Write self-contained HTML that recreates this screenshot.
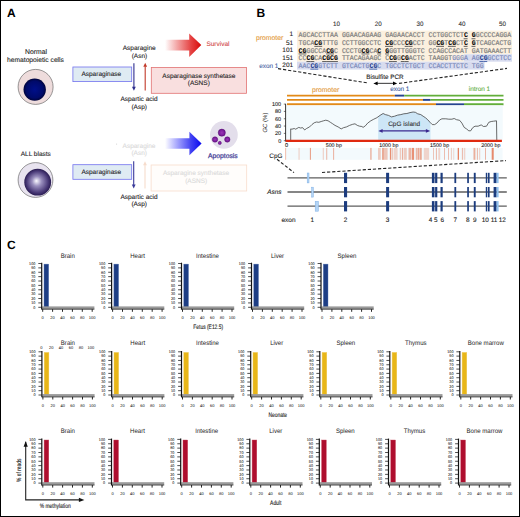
<!DOCTYPE html>
<html><head><meta charset="utf-8"><title>ASNS figure</title>
<style>html,body{margin:0;padding:0;background:#fff;} svg{display:block;} text{text-rendering:geometricPrecision;}</style>
</head><body>
<svg width="520" height="517" viewBox="0 0 520 517">
<defs>
<radialGradient id="nuc1" cx="0.5" cy="0.5" r="0.5"><stop offset="0" stop-color="#000f8a"/><stop offset="0.75" stop-color="#000a6a"/><stop offset="1" stop-color="#00033a"/></radialGradient>
<radialGradient id="nuc2" cx="0.5" cy="0.5" r="0.5" fx="0.45" fy="0.45"><stop offset="0" stop-color="#fbfaff"/><stop offset="0.35" stop-color="#9a8fbe"/><stop offset="0.8" stop-color="#4a3a78"/><stop offset="1" stop-color="#2a1c52"/></radialGradient>
<linearGradient id="gred" x1="165" y1="0" x2="200" y2="0" gradientUnits="userSpaceOnUse"><stop offset="0" stop-color="#e01818" stop-opacity="0"/><stop offset="0.75" stop-color="#e02020" stop-opacity="0.85"/><stop offset="1" stop-color="#d81010"/></linearGradient>
<linearGradient id="gblue" x1="165" y1="0" x2="200" y2="0" gradientUnits="userSpaceOnUse"><stop offset="0" stop-color="#1a1aff" stop-opacity="0"/><stop offset="0.75" stop-color="#2020f0" stop-opacity="0.85"/><stop offset="1" stop-color="#1010f0"/></linearGradient>
<radialGradient id="dot" cx="0.5" cy="0.5" r="0.5"><stop offset="0" stop-color="#9a36b6"/><stop offset="0.7" stop-color="#7e1e9e"/><stop offset="1" stop-color="#64107e"/></radialGradient>
</defs>
<rect x="0.5" y="0.5" width="519" height="516" fill="#fff" stroke="#000" stroke-width="1"/>
<text x="7" y="17" font-size="12" fill="#000" text-anchor="start" font-weight="bold" font-style="normal" font-family='"Liberation Sans", sans-serif'  >A</text>
<text x="256.6" y="17" font-size="12" fill="#000" text-anchor="start" font-weight="bold" font-style="normal" font-family='"Liberation Sans", sans-serif'  >B</text>
<text x="7" y="249.3" font-size="12" fill="#000" text-anchor="start" font-weight="bold" font-style="normal" font-family='"Liberation Sans", sans-serif'  >C</text>
<text x="36" y="54.2" font-size="6.8" fill="#222" text-anchor="middle" font-weight="normal" font-style="normal" font-family='"Liberation Sans", sans-serif' stroke="#222" stroke-width="0.1" >Normal</text>
<text x="35.5" y="62.0" font-size="6.7" fill="#222" text-anchor="middle" font-weight="normal" font-style="normal" font-family='"Liberation Sans", sans-serif' stroke="#222" stroke-width="0.1" >hematopoietic cells</text>
<circle cx="35.6" cy="86.9" r="17.5" fill="#eedcdc" stroke="#555" stroke-width="0.6"/>
<circle cx="34.7" cy="89.6" r="11.2" fill="url(#nuc1)"/>
<rect x="72.9" y="67.0" width="58.8" height="14.6" fill="#dfebf3" stroke="#7272ee" stroke-width="0.8"/>
<text x="101.3" y="76.1" font-size="6.5" fill="#222" text-anchor="middle" font-weight="normal" font-style="normal" font-family='"Liberation Sans", sans-serif' stroke="#222" stroke-width="0.1" >Asparaginase</text>
<text x="139.2" y="50.0" font-size="6.5" fill="#222" text-anchor="middle" font-weight="normal" font-style="normal" font-family='"Liberation Sans", sans-serif' stroke="#222" stroke-width="0.1" >Asparagine</text>
<text x="139.4" y="57.6" font-size="6.5" fill="#222" text-anchor="middle" font-weight="normal" font-style="normal" font-family='"Liberation Sans", sans-serif' stroke="#222" stroke-width="0.1" >(Asn)</text>
<text x="139.0" y="101.2" font-size="6.5" fill="#222" text-anchor="middle" font-weight="normal" font-style="normal" font-family='"Liberation Sans", sans-serif' stroke="#222" stroke-width="0.1" >Aspartic acid</text>
<text x="139.2" y="108.6" font-size="6.5" fill="#222" text-anchor="middle" font-weight="normal" font-style="normal" font-family='"Liberation Sans", sans-serif' stroke="#222" stroke-width="0.1" >(Asp)</text>
<line x1="133.9" y1="63.3" x2="133.9" y2="87.3" stroke="#2e2e8e" stroke-width="1.1"/>
<path d="M132.0 86.8 L135.8 86.8 L133.9 90.8 Z" fill="#2e2e8e"/>
<line x1="145.2" y1="90.6" x2="145.2" y2="66.3" stroke="#c23a2a" stroke-width="1.1"/>
<path d="M143.29999999999998 66.8 L147.1 66.8 L145.2 62.8 Z" fill="#c23a2a"/>
<rect x="151.3" y="67.4" width="95.2" height="25.9" fill="#f9dfdf" stroke="#e27272" stroke-width="0.8"/>
<text x="198.8" y="78.0" font-size="6.5" fill="#222" text-anchor="middle" font-weight="normal" font-style="normal" font-family='"Liberation Sans", sans-serif' stroke="#222" stroke-width="0.1" >Asparaginase synthetase</text>
<text x="198.8" y="85.4" font-size="6.5" fill="#222" text-anchor="middle" font-weight="normal" font-style="normal" font-family='"Liberation Sans", sans-serif' stroke="#222" stroke-width="0.1" >(ASNS)</text>
<path d="M163 39.8 L189.2 39.8 L189.2 33.4 L201.3 45.1 L189.2 56.9 L189.2 50.4 L163 50.4 Z" fill="url(#gred)"/>
<text x="206.4" y="46.4" font-size="6.5" fill="#d24a4a" text-anchor="start" font-weight="normal" font-style="normal" font-family='"Liberation Sans", sans-serif' stroke="#d24a4a" stroke-width="0.1" >Survival</text>
<text x="35.8" y="156.3" font-size="6.5" fill="#222" text-anchor="middle" font-weight="normal" font-style="normal" font-family='"Liberation Sans", sans-serif' stroke="#222" stroke-width="0.1" >ALL blasts</text>
<circle cx="35.5" cy="180" r="17.4" fill="#e8e3ef" stroke="#555" stroke-width="0.6"/>
<circle cx="37.7" cy="182.2" r="13.4" fill="url(#nuc2)"/>
<rect x="72.9" y="164.7" width="58.8" height="14.6" fill="#dfebf3" stroke="#7272ee" stroke-width="0.8"/>
<text x="101.3" y="173.79999999999998" font-size="6.5" fill="#222" text-anchor="middle" font-weight="normal" font-style="normal" font-family='"Liberation Sans", sans-serif' stroke="#222" stroke-width="0.1" >Asparaginase</text>
<text x="139.0" y="147.8" font-size="6.5" fill="#d9d9d9" text-anchor="middle" font-weight="normal" font-style="normal" font-family='"Liberation Sans", sans-serif' stroke="#d9d9d9" stroke-width="0.1" >Asparagine</text>
<line x1="116.6" y1="143.4" x2="116.6" y2="145.0" stroke="#d0d0d0" stroke-width="0.6"/>
<text x="139.2" y="155.4" font-size="6.5" fill="#d9d9d9" text-anchor="middle" font-weight="normal" font-style="normal" font-family='"Liberation Sans", sans-serif' stroke="#d9d9d9" stroke-width="0.1" >(Asn)</text>
<text x="139.0" y="198.6" font-size="6.5" fill="#222" text-anchor="middle" font-weight="normal" font-style="normal" font-family='"Liberation Sans", sans-serif' stroke="#222" stroke-width="0.1" >Aspartic acid</text>
<text x="139.2" y="206.0" font-size="6.5" fill="#222" text-anchor="middle" font-weight="normal" font-style="normal" font-family='"Liberation Sans", sans-serif' stroke="#222" stroke-width="0.1" >(Asp)</text>
<line x1="133.7" y1="161.3" x2="133.7" y2="184.9" stroke="#3a3a9a" stroke-width="1.1"/>
<path d="M131.79999999999998 184.4 L135.6 184.4 L133.7 188.4 Z" fill="#3a3a9a"/>
<line x1="145.0" y1="188.4" x2="145.0" y2="164.8" stroke="#f6dccc" stroke-width="1.1"/>
<path d="M143.1 165.3 L146.9 165.3 L145.0 161.3 Z" fill="#f6dccc"/>
<rect x="151.1" y="165.0" width="95.6" height="26.0" fill="#fffdfb" stroke="#f8dccc" stroke-width="0.8"/>
<text x="196.0" y="175.4" font-size="6.5" fill="#dadada" text-anchor="middle" font-weight="normal" font-style="normal" font-family='"Liberation Sans", sans-serif' stroke="#dadada" stroke-width="0.1" >Asparagine synthetase</text>
<text x="196.2" y="182.8" font-size="6.5" fill="#dadada" text-anchor="middle" font-weight="normal" font-style="normal" font-family='"Liberation Sans", sans-serif' stroke="#dadada" stroke-width="0.1" >(ASNS)</text>
<path d="M163 138.2 L189.4 138.2 L189.4 131.7 L201.6 143.5 L189.4 155.2 L189.4 148.8 L163 148.8 Z" fill="url(#gblue)"/>
<circle cx="223.9" cy="134.8" r="13.9" fill="#e3deeb"/>
<circle cx="221.8" cy="132.7" r="3.6" fill="url(#dot)" stroke="#5a0c7a" stroke-width="0.45"/>
<circle cx="215.0" cy="139.5" r="2.7" fill="url(#dot)" stroke="#5a0c7a" stroke-width="0.45"/>
<circle cx="227.3" cy="139.5" r="2.7" fill="url(#dot)" stroke="#5a0c7a" stroke-width="0.45"/>
<circle cx="219.8" cy="142.9" r="1.6" fill="url(#dot)" stroke="#5a0c7a" stroke-width="0.45"/>
<text x="222.9" y="157.9" font-size="6.75" fill="#4e4a9c" text-anchor="middle" font-weight="normal" font-style="normal" font-family='"Liberation Sans", sans-serif' stroke="#4e4a9c" stroke-width="0.28" >Apoptosis</text>
<!-- panel B -->
<text x="336.5" y="25.6" font-size="6.3" fill="#333" text-anchor="middle" font-weight="normal" font-style="normal" font-family='"Liberation Sans", sans-serif' stroke="#333" stroke-width="0.1" >10</text>
<text x="378.2" y="25.6" font-size="6.3" fill="#333" text-anchor="middle" font-weight="normal" font-style="normal" font-family='"Liberation Sans", sans-serif' stroke="#333" stroke-width="0.1" >20</text>
<text x="420.0" y="25.6" font-size="6.3" fill="#333" text-anchor="middle" font-weight="normal" font-style="normal" font-family='"Liberation Sans", sans-serif' stroke="#333" stroke-width="0.1" >30</text>
<text x="462.0" y="25.6" font-size="6.3" fill="#333" text-anchor="middle" font-weight="normal" font-style="normal" font-family='"Liberation Sans", sans-serif' stroke="#333" stroke-width="0.1" >40</text>
<text x="502.5" y="25.6" font-size="6.3" fill="#333" text-anchor="middle" font-weight="normal" font-style="normal" font-family='"Liberation Sans", sans-serif' stroke="#333" stroke-width="0.1" >50</text>
<rect x="297.0" y="30.6" width="215" height="23.7" fill="#fbf0df"/>
<rect x="297.0" y="54.2" width="166.9" height="7.5" fill="#fbf0df"/>
<rect x="463.9" y="54.2" width="48.1" height="7.5" fill="#d8dcef"/>
<rect x="297.0" y="61.7" width="187.6" height="7.9" fill="#d8dcef"/>
<text x="256.0" y="39.8" font-size="6.8" fill="#e49a3a" text-anchor="start" font-weight="normal" font-style="normal" font-family='"Liberation Sans", sans-serif' stroke="#e49a3a" stroke-width="0.1" >promoter</text>
<text x="259.2" y="68.2" font-size="6.4" fill="#4a64a4" text-anchor="start" font-weight="normal" font-style="normal" font-family='"Liberation Sans", sans-serif' stroke="#4a64a4" stroke-width="0.1" >exon 1</text>
<text x="293.2" y="36.4" font-size="6.5" fill="#222" text-anchor="end" font-weight="normal" font-style="normal" font-family='"Liberation Sans", sans-serif' stroke="#222" stroke-width="0.1" >1</text>
<text transform="translate(298.6,37.3) scale(1,1.1)" x="0" y="0" font-size="6.55" font-family='"Liberation Mono", monospace' stroke-width="0.18" xml:space="preserve"><tspan fill="#7e7e7e" stroke="#7e7e7e">A</tspan><tspan fill="#7e7e7e" stroke="#7e7e7e">G</tspan><tspan fill="#7e7e7e" stroke="#7e7e7e">C</tspan><tspan fill="#7e7e7e" stroke="#7e7e7e">A</tspan><tspan fill="#7e7e7e" stroke="#7e7e7e">C</tspan><tspan fill="#7e7e7e" stroke="#7e7e7e">C</tspan><tspan fill="#7e7e7e" stroke="#7e7e7e">T</tspan><tspan fill="#7e7e7e" stroke="#7e7e7e">T</tspan><tspan fill="#7e7e7e" stroke="#7e7e7e">A</tspan><tspan fill="#7e7e7e" stroke="#7e7e7e">A</tspan> <tspan fill="#7e7e7e" stroke="#7e7e7e">G</tspan><tspan fill="#7e7e7e" stroke="#7e7e7e">G</tspan><tspan fill="#7e7e7e" stroke="#7e7e7e">A</tspan><tspan fill="#7e7e7e" stroke="#7e7e7e">A</tspan><tspan fill="#7e7e7e" stroke="#7e7e7e">C</tspan><tspan fill="#7e7e7e" stroke="#7e7e7e">A</tspan><tspan fill="#7e7e7e" stroke="#7e7e7e">G</tspan><tspan fill="#7e7e7e" stroke="#7e7e7e">A</tspan><tspan fill="#7e7e7e" stroke="#7e7e7e">A</tspan><tspan fill="#7e7e7e" stroke="#7e7e7e">G</tspan> <tspan fill="#7e7e7e" stroke="#7e7e7e">G</tspan><tspan fill="#7e7e7e" stroke="#7e7e7e">A</tspan><tspan fill="#7e7e7e" stroke="#7e7e7e">G</tspan><tspan fill="#7e7e7e" stroke="#7e7e7e">A</tspan><tspan fill="#7e7e7e" stroke="#7e7e7e">A</tspan><tspan fill="#7e7e7e" stroke="#7e7e7e">C</tspan><tspan fill="#7e7e7e" stroke="#7e7e7e">A</tspan><tspan fill="#7e7e7e" stroke="#7e7e7e">C</tspan><tspan fill="#7e7e7e" stroke="#7e7e7e">C</tspan><tspan fill="#7e7e7e" stroke="#7e7e7e">T</tspan> <tspan fill="#7e7e7e" stroke="#7e7e7e">C</tspan><tspan fill="#7e7e7e" stroke="#7e7e7e">C</tspan><tspan fill="#7e7e7e" stroke="#7e7e7e">T</tspan><tspan fill="#7e7e7e" stroke="#7e7e7e">G</tspan><tspan fill="#7e7e7e" stroke="#7e7e7e">G</tspan><tspan fill="#7e7e7e" stroke="#7e7e7e">C</tspan><tspan fill="#7e7e7e" stroke="#7e7e7e">T</tspan><tspan fill="#7e7e7e" stroke="#7e7e7e">C</tspan><tspan fill="#7e7e7e" stroke="#7e7e7e">T</tspan><tspan font-weight="bold" fill="#000" stroke="#000" stroke-width="0.08">C</tspan> <tspan font-weight="bold" fill="#000" stroke="#000" stroke-width="0.08">G</tspan><tspan fill="#7e7e7e" stroke="#7e7e7e">G</tspan><tspan fill="#7e7e7e" stroke="#7e7e7e">C</tspan><tspan fill="#7e7e7e" stroke="#7e7e7e">C</tspan><tspan fill="#7e7e7e" stroke="#7e7e7e">C</tspan><tspan fill="#7e7e7e" stroke="#7e7e7e">C</tspan><tspan fill="#7e7e7e" stroke="#7e7e7e">A</tspan><tspan fill="#7e7e7e" stroke="#7e7e7e">G</tspan><tspan fill="#7e7e7e" stroke="#7e7e7e">G</tspan><tspan fill="#7e7e7e" stroke="#7e7e7e">A</tspan></text>
<line x1="463.66" y1="38.75" x2="467.59" y2="38.75" stroke="#3a3a3a" stroke-width="0.8"/>
<line x1="471.52" y1="38.75" x2="475.45" y2="38.75" stroke="#3a3a3a" stroke-width="0.8"/>
<text x="293.2" y="44.5" font-size="6.5" fill="#222" text-anchor="end" font-weight="normal" font-style="normal" font-family='"Liberation Sans", sans-serif' stroke="#222" stroke-width="0.1" >51</text>
<text transform="translate(298.6,44.9) scale(1,1.1)" x="0" y="0" font-size="6.55" font-family='"Liberation Mono", monospace' stroke-width="0.18" xml:space="preserve"><tspan fill="#7e7e7e" stroke="#7e7e7e">T</tspan><tspan fill="#7e7e7e" stroke="#7e7e7e">G</tspan><tspan fill="#7e7e7e" stroke="#7e7e7e">C</tspan><tspan fill="#7e7e7e" stroke="#7e7e7e">A</tspan><tspan font-weight="bold" fill="#000" stroke="#000" stroke-width="0.08">C</tspan><tspan font-weight="bold" fill="#000" stroke="#000" stroke-width="0.08">G</tspan><tspan fill="#7e7e7e" stroke="#7e7e7e">T</tspan><tspan fill="#7e7e7e" stroke="#7e7e7e">T</tspan><tspan fill="#7e7e7e" stroke="#7e7e7e">T</tspan><tspan fill="#7e7e7e" stroke="#7e7e7e">G</tspan> <tspan fill="#7e7e7e" stroke="#7e7e7e">C</tspan><tspan fill="#7e7e7e" stroke="#7e7e7e">C</tspan><tspan fill="#7e7e7e" stroke="#7e7e7e">T</tspan><tspan fill="#7e7e7e" stroke="#7e7e7e">T</tspan><tspan fill="#7e7e7e" stroke="#7e7e7e">G</tspan><tspan fill="#7e7e7e" stroke="#7e7e7e">G</tspan><tspan fill="#7e7e7e" stroke="#7e7e7e">C</tspan><tspan fill="#7e7e7e" stroke="#7e7e7e">C</tspan><tspan fill="#7e7e7e" stroke="#7e7e7e">T</tspan><tspan fill="#7e7e7e" stroke="#7e7e7e">C</tspan> <tspan font-weight="bold" fill="#000" stroke="#000" stroke-width="0.08">C</tspan><tspan font-weight="bold" fill="#000" stroke="#000" stroke-width="0.08">G</tspan><tspan fill="#7e7e7e" stroke="#7e7e7e">C</tspan><tspan fill="#7e7e7e" stroke="#7e7e7e">C</tspan><tspan fill="#7e7e7e" stroke="#7e7e7e">C</tspan><tspan font-weight="bold" fill="#000" stroke="#000" stroke-width="0.08">C</tspan><tspan font-weight="bold" fill="#000" stroke="#000" stroke-width="0.08">G</tspan><tspan fill="#7e7e7e" stroke="#7e7e7e">C</tspan><tspan fill="#7e7e7e" stroke="#7e7e7e">C</tspan><tspan fill="#7e7e7e" stroke="#7e7e7e">T</tspan> <tspan fill="#7e7e7e" stroke="#7e7e7e">G</tspan><tspan fill="#7e7e7e" stroke="#7e7e7e">G</tspan><tspan font-weight="bold" fill="#000" stroke="#000" stroke-width="0.08">C</tspan><tspan font-weight="bold" fill="#000" stroke="#000" stroke-width="0.08">G</tspan><tspan fill="#7e7e7e" stroke="#7e7e7e">T</tspan><tspan font-weight="bold" fill="#000" stroke="#000" stroke-width="0.08">C</tspan><tspan font-weight="bold" fill="#000" stroke="#000" stroke-width="0.08">G</tspan><tspan fill="#7e7e7e" stroke="#7e7e7e">C</tspan><tspan fill="#7e7e7e" stroke="#7e7e7e">T</tspan><tspan font-weight="bold" fill="#000" stroke="#000" stroke-width="0.08">C</tspan> <tspan font-weight="bold" fill="#000" stroke="#000" stroke-width="0.08">G</tspan><tspan fill="#7e7e7e" stroke="#7e7e7e">T</tspan><tspan fill="#7e7e7e" stroke="#7e7e7e">C</tspan><tspan fill="#7e7e7e" stroke="#7e7e7e">A</tspan><tspan fill="#7e7e7e" stroke="#7e7e7e">G</tspan><tspan fill="#7e7e7e" stroke="#7e7e7e">C</tspan><tspan fill="#7e7e7e" stroke="#7e7e7e">A</tspan><tspan fill="#7e7e7e" stroke="#7e7e7e">C</tspan><tspan fill="#7e7e7e" stroke="#7e7e7e">T</tspan><tspan fill="#7e7e7e" stroke="#7e7e7e">G</tspan></text>
<line x1="314.32" y1="46.35" x2="318.25" y2="46.35" stroke="#3a3a3a" stroke-width="0.8"/>
<line x1="318.25" y1="46.35" x2="322.18" y2="46.35" stroke="#3a3a3a" stroke-width="0.8"/>
<line x1="385.06" y1="46.35" x2="388.99" y2="46.35" stroke="#3a3a3a" stroke-width="0.8"/>
<line x1="388.99" y1="46.35" x2="392.92" y2="46.35" stroke="#3a3a3a" stroke-width="0.8"/>
<line x1="404.71" y1="46.35" x2="408.64" y2="46.35" stroke="#3a3a3a" stroke-width="0.8"/>
<line x1="408.64" y1="46.35" x2="412.57" y2="46.35" stroke="#3a3a3a" stroke-width="0.8"/>
<line x1="436.15" y1="46.35" x2="440.08" y2="46.35" stroke="#3a3a3a" stroke-width="0.8"/>
<line x1="440.08" y1="46.35" x2="444.01" y2="46.35" stroke="#3a3a3a" stroke-width="0.8"/>
<line x1="447.94" y1="46.35" x2="451.87" y2="46.35" stroke="#3a3a3a" stroke-width="0.8"/>
<line x1="451.87" y1="46.35" x2="455.80" y2="46.35" stroke="#3a3a3a" stroke-width="0.8"/>
<line x1="463.66" y1="46.35" x2="467.59" y2="46.35" stroke="#3a3a3a" stroke-width="0.8"/>
<line x1="471.52" y1="46.35" x2="475.45" y2="46.35" stroke="#3a3a3a" stroke-width="0.8"/>
<text x="293.2" y="52.0" font-size="6.5" fill="#222" text-anchor="end" font-weight="normal" font-style="normal" font-family='"Liberation Sans", sans-serif' stroke="#222" stroke-width="0.1" >101</text>
<text transform="translate(298.6,52.5) scale(1,1.1)" x="0" y="0" font-size="6.55" font-family='"Liberation Mono", monospace' stroke-width="0.18" xml:space="preserve"><tspan font-weight="bold" fill="#000" stroke="#000" stroke-width="0.08">C</tspan><tspan font-weight="bold" fill="#000" stroke="#000" stroke-width="0.08">G</tspan><tspan fill="#7e7e7e" stroke="#7e7e7e">G</tspan><tspan fill="#7e7e7e" stroke="#7e7e7e">G</tspan><tspan fill="#7e7e7e" stroke="#7e7e7e">C</tspan><tspan fill="#7e7e7e" stroke="#7e7e7e">C</tspan><tspan fill="#7e7e7e" stroke="#7e7e7e">A</tspan><tspan font-weight="bold" fill="#000" stroke="#000" stroke-width="0.08">C</tspan><tspan font-weight="bold" fill="#000" stroke="#000" stroke-width="0.08">G</tspan><tspan fill="#7e7e7e" stroke="#7e7e7e">C</tspan> <tspan fill="#7e7e7e" stroke="#7e7e7e">C</tspan><tspan fill="#7e7e7e" stroke="#7e7e7e">C</tspan><tspan fill="#7e7e7e" stroke="#7e7e7e">C</tspan><tspan fill="#7e7e7e" stroke="#7e7e7e">T</tspan><tspan fill="#7e7e7e" stroke="#7e7e7e">G</tspan><tspan font-weight="bold" fill="#000" stroke="#000" stroke-width="0.08">C</tspan><tspan font-weight="bold" fill="#000" stroke="#000" stroke-width="0.08">G</tspan><tspan fill="#7e7e7e" stroke="#7e7e7e">C</tspan><tspan fill="#7e7e7e" stroke="#7e7e7e">A</tspan><tspan font-weight="bold" fill="#000" stroke="#000" stroke-width="0.08">C</tspan> <tspan font-weight="bold" fill="#000" stroke="#000" stroke-width="0.08">G</tspan><tspan fill="#7e7e7e" stroke="#7e7e7e">G</tspan><tspan fill="#7e7e7e" stroke="#7e7e7e">G</tspan><tspan fill="#7e7e7e" stroke="#7e7e7e">T</tspan><tspan fill="#7e7e7e" stroke="#7e7e7e">T</tspan><tspan fill="#7e7e7e" stroke="#7e7e7e">G</tspan><tspan fill="#7e7e7e" stroke="#7e7e7e">G</tspan><tspan fill="#7e7e7e" stroke="#7e7e7e">G</tspan><tspan fill="#7e7e7e" stroke="#7e7e7e">T</tspan><tspan fill="#7e7e7e" stroke="#7e7e7e">C</tspan> <tspan fill="#7e7e7e" stroke="#7e7e7e">C</tspan><tspan fill="#7e7e7e" stroke="#7e7e7e">C</tspan><tspan fill="#7e7e7e" stroke="#7e7e7e">A</tspan><tspan fill="#7e7e7e" stroke="#7e7e7e">G</tspan><tspan fill="#7e7e7e" stroke="#7e7e7e">C</tspan><tspan fill="#7e7e7e" stroke="#7e7e7e">C</tspan><tspan fill="#7e7e7e" stroke="#7e7e7e">A</tspan><tspan fill="#7e7e7e" stroke="#7e7e7e">C</tspan><tspan fill="#7e7e7e" stroke="#7e7e7e">A</tspan><tspan fill="#7e7e7e" stroke="#7e7e7e">T</tspan> <tspan fill="#7e7e7e" stroke="#7e7e7e">G</tspan><tspan fill="#7e7e7e" stroke="#7e7e7e">A</tspan><tspan fill="#7e7e7e" stroke="#7e7e7e">T</tspan><tspan fill="#7e7e7e" stroke="#7e7e7e">G</tspan><tspan fill="#7e7e7e" stroke="#7e7e7e">A</tspan><tspan fill="#7e7e7e" stroke="#7e7e7e">A</tspan><tspan fill="#7e7e7e" stroke="#7e7e7e">A</tspan><tspan fill="#7e7e7e" stroke="#7e7e7e">C</tspan><tspan fill="#7e7e7e" stroke="#7e7e7e">T</tspan><tspan fill="#7e7e7e" stroke="#7e7e7e">T</tspan></text>
<line x1="298.60" y1="53.95" x2="302.53" y2="53.95" stroke="#3a3a3a" stroke-width="0.8"/>
<line x1="302.53" y1="53.95" x2="306.46" y2="53.95" stroke="#3a3a3a" stroke-width="0.8"/>
<line x1="326.11" y1="53.95" x2="330.04" y2="53.95" stroke="#3a3a3a" stroke-width="0.8"/>
<line x1="330.04" y1="53.95" x2="333.97" y2="53.95" stroke="#3a3a3a" stroke-width="0.8"/>
<line x1="361.48" y1="53.95" x2="365.41" y2="53.95" stroke="#3a3a3a" stroke-width="0.8"/>
<line x1="365.41" y1="53.95" x2="369.34" y2="53.95" stroke="#3a3a3a" stroke-width="0.8"/>
<line x1="377.20" y1="53.95" x2="381.13" y2="53.95" stroke="#3a3a3a" stroke-width="0.8"/>
<line x1="385.06" y1="53.95" x2="388.99" y2="53.95" stroke="#3a3a3a" stroke-width="0.8"/>
<text x="293.2" y="59.8" font-size="6.5" fill="#222" text-anchor="end" font-weight="normal" font-style="normal" font-family='"Liberation Sans", sans-serif' stroke="#222" stroke-width="0.1" >151</text>
<text transform="translate(298.6,60.1) scale(1,1.1)" x="0" y="0" font-size="6.55" font-family='"Liberation Mono", monospace' stroke-width="0.18" xml:space="preserve"><tspan fill="#7e7e7e" stroke="#7e7e7e">C</tspan><tspan fill="#7e7e7e" stroke="#7e7e7e">C</tspan><tspan font-weight="bold" fill="#000" stroke="#000" stroke-width="0.08">C</tspan><tspan font-weight="bold" fill="#000" stroke="#000" stroke-width="0.08">G</tspan><tspan fill="#7e7e7e" stroke="#7e7e7e">C</tspan><tspan fill="#7e7e7e" stroke="#7e7e7e">A</tspan><tspan font-weight="bold" fill="#000" stroke="#000" stroke-width="0.08">C</tspan><tspan font-weight="bold" fill="#000" stroke="#000" stroke-width="0.08">G</tspan><tspan font-weight="bold" fill="#000" stroke="#000" stroke-width="0.08">C</tspan><tspan font-weight="bold" fill="#000" stroke="#000" stroke-width="0.08">G</tspan> <tspan fill="#7e7e7e" stroke="#7e7e7e">T</tspan><tspan fill="#7e7e7e" stroke="#7e7e7e">T</tspan><tspan fill="#7e7e7e" stroke="#7e7e7e">A</tspan><tspan fill="#7e7e7e" stroke="#7e7e7e">C</tspan><tspan fill="#7e7e7e" stroke="#7e7e7e">A</tspan><tspan fill="#7e7e7e" stroke="#7e7e7e">G</tspan><tspan fill="#7e7e7e" stroke="#7e7e7e">A</tspan><tspan fill="#7e7e7e" stroke="#7e7e7e">A</tspan><tspan fill="#7e7e7e" stroke="#7e7e7e">G</tspan><tspan fill="#7e7e7e" stroke="#7e7e7e">C</tspan> <tspan fill="#7e7e7e" stroke="#7e7e7e">C</tspan><tspan font-weight="bold" fill="#000" stroke="#000" stroke-width="0.08">C</tspan><tspan font-weight="bold" fill="#000" stroke="#000" stroke-width="0.08">G</tspan><tspan fill="#7e7e7e" stroke="#7e7e7e">G</tspan><tspan font-weight="bold" fill="#000" stroke="#000" stroke-width="0.08">C</tspan><tspan font-weight="bold" fill="#000" stroke="#000" stroke-width="0.08">G</tspan><tspan fill="#7e7e7e" stroke="#7e7e7e">A</tspan><tspan fill="#7e7e7e" stroke="#7e7e7e">C</tspan><tspan fill="#7e7e7e" stroke="#7e7e7e">T</tspan><tspan fill="#7e7e7e" stroke="#7e7e7e">C</tspan> <tspan fill="#7e7e7e" stroke="#7e7e7e">T</tspan><tspan fill="#7e7e7e" stroke="#7e7e7e">A</tspan><tspan fill="#7e7e7e" stroke="#7e7e7e">A</tspan><tspan fill="#7e7e7e" stroke="#7e7e7e">G</tspan><tspan fill="#7e7e7e" stroke="#7e7e7e">G</tspan><tspan fill="#7e7e7e" stroke="#7e7e7e">T</tspan><tspan fill="#7d8bbb" stroke="#7d8bbb">G</tspan><tspan fill="#7d8bbb" stroke="#7d8bbb">G</tspan><tspan fill="#7d8bbb" stroke="#7d8bbb">G</tspan><tspan fill="#7d8bbb" stroke="#7d8bbb">A</tspan> <tspan fill="#7d8bbb" stroke="#7d8bbb">A</tspan><tspan fill="#7d8bbb" stroke="#7d8bbb">G</tspan><tspan font-weight="bold" fill="#1e3e8e" stroke="#1e3e8e" stroke-width="0.08">C</tspan><tspan font-weight="bold" fill="#1e3e8e" stroke="#1e3e8e" stroke-width="0.08">G</tspan><tspan fill="#7d8bbb" stroke="#7d8bbb">G</tspan><tspan fill="#7d8bbb" stroke="#7d8bbb">C</tspan><tspan fill="#7d8bbb" stroke="#7d8bbb">C</tspan><tspan fill="#7d8bbb" stroke="#7d8bbb">T</tspan><tspan fill="#7d8bbb" stroke="#7d8bbb">C</tspan><tspan fill="#7d8bbb" stroke="#7d8bbb">C</tspan></text>
<line x1="306.46" y1="61.550000000000004" x2="310.39" y2="61.550000000000004" stroke="#3a3a3a" stroke-width="0.8"/>
<line x1="310.39" y1="61.550000000000004" x2="314.32" y2="61.550000000000004" stroke="#3a3a3a" stroke-width="0.8"/>
<line x1="322.18" y1="61.550000000000004" x2="326.11" y2="61.550000000000004" stroke="#3a3a3a" stroke-width="0.8"/>
<line x1="326.11" y1="61.550000000000004" x2="330.04" y2="61.550000000000004" stroke="#3a3a3a" stroke-width="0.8"/>
<line x1="330.04" y1="61.550000000000004" x2="333.97" y2="61.550000000000004" stroke="#3a3a3a" stroke-width="0.8"/>
<line x1="333.97" y1="61.550000000000004" x2="337.90" y2="61.550000000000004" stroke="#3a3a3a" stroke-width="0.8"/>
<line x1="388.99" y1="61.550000000000004" x2="392.92" y2="61.550000000000004" stroke="#3a3a3a" stroke-width="0.8"/>
<line x1="392.92" y1="61.550000000000004" x2="396.85" y2="61.550000000000004" stroke="#3a3a3a" stroke-width="0.8"/>
<line x1="400.78" y1="61.550000000000004" x2="404.71" y2="61.550000000000004" stroke="#3a3a3a" stroke-width="0.8"/>
<line x1="404.71" y1="61.550000000000004" x2="408.64" y2="61.550000000000004" stroke="#3a3a3a" stroke-width="0.8"/>
<line x1="479.38" y1="61.550000000000004" x2="483.31" y2="61.550000000000004" stroke="#2a4a9a" stroke-width="0.8"/>
<line x1="483.31" y1="61.550000000000004" x2="487.24" y2="61.550000000000004" stroke="#2a4a9a" stroke-width="0.8"/>
<text x="293.2" y="67.2" font-size="6.5" fill="#222" text-anchor="end" font-weight="normal" font-style="normal" font-family='"Liberation Sans", sans-serif' stroke="#222" stroke-width="0.1" >201</text>
<text transform="translate(298.6,67.7) scale(1,1.1)" x="0" y="0" font-size="6.55" font-family='"Liberation Mono", monospace' stroke-width="0.18" xml:space="preserve"><tspan fill="#7d8bbb" stroke="#7d8bbb">A</tspan><tspan fill="#7d8bbb" stroke="#7d8bbb">A</tspan><tspan fill="#7d8bbb" stroke="#7d8bbb">C</tspan><tspan font-weight="bold" fill="#1e3e8e" stroke="#1e3e8e" stroke-width="0.08">C</tspan><tspan font-weight="bold" fill="#1e3e8e" stroke="#1e3e8e" stroke-width="0.08">G</tspan><tspan fill="#7d8bbb" stroke="#7d8bbb">G</tspan><tspan fill="#7d8bbb" stroke="#7d8bbb">T</tspan><tspan fill="#7d8bbb" stroke="#7d8bbb">C</tspan><tspan fill="#7d8bbb" stroke="#7d8bbb">T</tspan><tspan fill="#7d8bbb" stroke="#7d8bbb">T</tspan> <tspan fill="#7d8bbb" stroke="#7d8bbb">G</tspan><tspan fill="#7d8bbb" stroke="#7d8bbb">T</tspan><tspan fill="#7d8bbb" stroke="#7d8bbb">C</tspan><tspan fill="#7d8bbb" stroke="#7d8bbb">A</tspan><tspan fill="#7d8bbb" stroke="#7d8bbb">C</tspan><tspan fill="#7d8bbb" stroke="#7d8bbb">T</tspan><tspan fill="#7d8bbb" stroke="#7d8bbb">G</tspan><tspan font-weight="bold" fill="#1e3e8e" stroke="#1e3e8e" stroke-width="0.08">C</tspan><tspan font-weight="bold" fill="#1e3e8e" stroke="#1e3e8e" stroke-width="0.08">G</tspan><tspan fill="#7d8bbb" stroke="#7d8bbb">C</tspan> <tspan fill="#7d8bbb" stroke="#7d8bbb">T</tspan><tspan fill="#7d8bbb" stroke="#7d8bbb">G</tspan><tspan fill="#7d8bbb" stroke="#7d8bbb">C</tspan><tspan fill="#7d8bbb" stroke="#7d8bbb">C</tspan><tspan fill="#7d8bbb" stroke="#7d8bbb">T</tspan><tspan fill="#7d8bbb" stroke="#7d8bbb">C</tspan><tspan fill="#7d8bbb" stroke="#7d8bbb">T</tspan><tspan fill="#7d8bbb" stroke="#7d8bbb">G</tspan><tspan fill="#7d8bbb" stroke="#7d8bbb">C</tspan><tspan fill="#7d8bbb" stroke="#7d8bbb">T</tspan> <tspan fill="#7d8bbb" stroke="#7d8bbb">C</tspan><tspan fill="#7d8bbb" stroke="#7d8bbb">C</tspan><tspan fill="#7d8bbb" stroke="#7d8bbb">A</tspan><tspan fill="#7d8bbb" stroke="#7d8bbb">C</tspan><tspan fill="#7d8bbb" stroke="#7d8bbb">C</tspan><tspan fill="#7d8bbb" stroke="#7d8bbb">T</tspan><tspan fill="#7d8bbb" stroke="#7d8bbb">T</tspan><tspan fill="#7d8bbb" stroke="#7d8bbb">C</tspan><tspan fill="#7d8bbb" stroke="#7d8bbb">T</tspan><tspan fill="#7d8bbb" stroke="#7d8bbb">C</tspan> <tspan fill="#7d8bbb" stroke="#7d8bbb">T</tspan><tspan fill="#7d8bbb" stroke="#7d8bbb">G</tspan><tspan fill="#7d8bbb" stroke="#7d8bbb">G</tspan></text>
<line x1="310.39" y1="69.15" x2="314.32" y2="69.15" stroke="#2a4a9a" stroke-width="0.8"/>
<line x1="314.32" y1="69.15" x2="318.25" y2="69.15" stroke="#2a4a9a" stroke-width="0.8"/>
<line x1="369.34" y1="69.15" x2="373.27" y2="69.15" stroke="#2a4a9a" stroke-width="0.8"/>
<line x1="373.27" y1="69.15" x2="377.20" y2="69.15" stroke="#2a4a9a" stroke-width="0.8"/>
<line x1="278" y1="68.6" x2="368" y2="83.0" stroke="#222" stroke-width="1.1" stroke-dasharray="3.2,1.9"/>
<line x1="399" y1="83.4" x2="507" y2="68.4" stroke="#222" stroke-width="1.1" stroke-dasharray="3.2,1.9"/>
<text x="366.3" y="79.1" font-size="6.33" fill="#222" text-anchor="start" font-weight="normal" font-style="normal" font-family='"Liberation Sans", sans-serif' stroke="#222" stroke-width="0.1" >Bisulfite PCR</text>
<line x1="376" y1="83.4" x2="394.5" y2="83.4" stroke="#555" stroke-width="1.2"/>
<path d="M373.4 83.4 L377.6 81.6 L377.6 85.2 Z" fill="#000"/>
<path d="M397.2 83.4 L393.0 81.6 L393.0 85.2 Z" fill="#000"/>
<text x="312.0" y="91.6" font-size="6.8" fill="#e49a3a" text-anchor="start" font-weight="normal" font-style="normal" font-family='"Liberation Sans", sans-serif' stroke="#e49a3a" stroke-width="0.1" >promoter</text>
<text x="390.2" y="91.4" font-size="6.4" fill="#3e5aa0" text-anchor="start" font-weight="normal" font-style="normal" font-family='"Liberation Sans", sans-serif' stroke="#3e5aa0" stroke-width="0.1" >exon 1</text>
<text x="468.8" y="91.4" font-size="6.4" fill="#62ae42" text-anchor="start" font-weight="normal" font-style="normal" font-family='"Liberation Sans", sans-serif' stroke="#62ae42" stroke-width="0.1" >intron 1</text>
<line x1="287" y1="95.6" x2="394.8" y2="95.6" stroke="#e28a18" stroke-width="1.9"/>
<line x1="394.8" y1="95.6" x2="404.2" y2="95.6" stroke="#26448e" stroke-width="1.9"/>
<line x1="404.2" y1="95.6" x2="503.5" y2="95.6" stroke="#62ae3a" stroke-width="1.9"/>
<line x1="287" y1="99.9" x2="423.0" y2="99.9" stroke="#e28a18" stroke-width="1.9"/>
<line x1="423.0" y1="99.9" x2="430.6" y2="99.9" stroke="#26448e" stroke-width="1.9"/>
<line x1="430.6" y1="99.9" x2="503.5" y2="99.9" stroke="#62ae3a" stroke-width="1.9"/>
<line x1="287" y1="104.3" x2="436.0" y2="104.3" stroke="#e28a18" stroke-width="1.9"/>
<line x1="436.0" y1="104.3" x2="464.0" y2="104.3" stroke="#26448e" stroke-width="1.9"/>
<line x1="464.0" y1="104.3" x2="503.5" y2="104.3" stroke="#62ae3a" stroke-width="1.9"/>
<rect x="286" y="105.5" width="216.7" height="35" fill="#f3fafd"/>
<polygon points="378.2,140.3 378.2,116.7 380.0,115.4 383.1,113.5 385.4,114.6 388.5,115.4 391.5,116.9 394.6,116.2 397.7,115.1 400.8,114.6 403.8,113.8 406.9,113.5 410.0,112.6 413.1,112.0 415.4,112.3 417.7,113.8 420.8,114.6 423.1,116.2 425.4,117.7 427.7,119.7 430.0,122.3 430.5,122.8 430.5,140.3" fill="#cde6f6"/>
<polyline points="290.7,140.8 290.7,128.9 291.9,129.2 294.2,128.5 295.7,129.2 298.8,127.4 300.4,128.0 302.7,127.7 304.7,130.0 306.5,128.5 309.6,126.9 311.9,124.6 314.2,122.8 316.5,122.0 318.8,122.3 321.2,121.5 323.5,120.8 325.8,120.2 328.1,120.8 330.4,122.3 332.7,123.8 335.0,125.4 338.1,126.9 341.2,128.9 343.5,127.7 346.5,126.9 349.6,125.4 352.7,124.3 355.0,123.8 357.3,125.4 359.6,126.2 361.9,126.5 363.1,127.4 365.4,125.8 367.7,123.1 370.8,120.8 373.8,119.2 376.9,117.7 380.0,115.4 383.1,113.5 385.4,114.6 388.5,115.4 391.5,116.9 394.6,116.2 397.7,115.1 400.8,114.6 403.8,113.8 406.9,113.5 410.0,112.6 413.1,112.0 415.4,112.3 417.7,113.8 420.8,114.6 423.1,116.2 425.4,117.7 427.7,119.7 430.0,122.3 432.3,124.6 434.6,124.6 436.9,123.1 439.6,120.0 441.9,118.8 445.8,118.8 448.8,119.2 451.9,119.2 454.2,118.5 456.5,119.7 459.6,120.3 461.9,123.1 464.2,127.4 466.5,128.9 468.8,130.8 470.7,130.8 472.7,127.7 475.0,126.2 478.1,126.2 481.2,124.9 483.5,126.5 486.5,126.2 488.8,122.3 491.2,121.5 493.5,121.2 496.5,120.8 496.8,140.8" fill="none" stroke="#3a3a3a" stroke-width="0.75"/>
<text x="404.2" y="126.3" font-size="6.47" fill="#333" text-anchor="middle" font-weight="normal" font-style="normal" font-family='"Liberation Sans", sans-serif' stroke="#333" stroke-width="0.1" >CpG island</text>
<line x1="381" y1="130.9" x2="427.5" y2="130.9" stroke="#3a2a90" stroke-width="1.1"/>
<path d="M378.3 130.9 L382.6 129.0 L382.6 132.8 Z" fill="#3a2a90"/>
<path d="M430.2 130.9 L425.9 129.0 L425.9 132.8 Z" fill="#3a2a90"/>
<line x1="285.6" y1="103.8" x2="285.6" y2="141.5" stroke="#222" stroke-width="0.9"/>
<text x="281.2" y="106.1" font-size="5.5" fill="#222" text-anchor="end" font-weight="normal" font-style="normal" font-family='"Liberation Sans", sans-serif' stroke="#222" stroke-width="0.1" >100</text>
<line x1="283.8" y1="104.10" x2="285.6" y2="104.10" stroke="#222" stroke-width="0.6"/>
<text x="281.2" y="113.41999999999999" font-size="5.5" fill="#222" text-anchor="end" font-weight="normal" font-style="normal" font-family='"Liberation Sans", sans-serif' stroke="#222" stroke-width="0.1" >80</text>
<line x1="283.8" y1="111.42" x2="285.6" y2="111.42" stroke="#222" stroke-width="0.6"/>
<text x="281.2" y="120.74" font-size="5.5" fill="#222" text-anchor="end" font-weight="normal" font-style="normal" font-family='"Liberation Sans", sans-serif' stroke="#222" stroke-width="0.1" >60</text>
<line x1="283.8" y1="118.74" x2="285.6" y2="118.74" stroke="#222" stroke-width="0.6"/>
<text x="281.2" y="128.06" font-size="5.5" fill="#222" text-anchor="end" font-weight="normal" font-style="normal" font-family='"Liberation Sans", sans-serif' stroke="#222" stroke-width="0.1" >40</text>
<line x1="283.8" y1="126.06" x2="285.6" y2="126.06" stroke="#222" stroke-width="0.6"/>
<text x="281.2" y="135.38" font-size="5.5" fill="#222" text-anchor="end" font-weight="normal" font-style="normal" font-family='"Liberation Sans", sans-serif' stroke="#222" stroke-width="0.1" >20</text>
<line x1="283.8" y1="133.38" x2="285.6" y2="133.38" stroke="#222" stroke-width="0.6"/>
<text x="281.2" y="142.7" font-size="5.5" fill="#222" text-anchor="end" font-weight="normal" font-style="normal" font-family='"Liberation Sans", sans-serif' stroke="#222" stroke-width="0.1" >0</text>
<line x1="283.8" y1="140.70" x2="285.6" y2="140.70" stroke="#222" stroke-width="0.6"/>
<text transform="translate(266.7,122.6) rotate(-90)" font-size="6.0" fill="#222" text-anchor="middle" font-family='"Liberation Sans", sans-serif'><tspan font-style="italic">GC</tspan> (%)</text>
<line x1="285.6" y1="140.8" x2="501.9" y2="140.8" stroke="#e02a10" stroke-width="2.2"/>
<text x="285.0" y="146.6" font-size="5.6" fill="#222" text-anchor="start" font-weight="normal" font-style="normal" font-family='"Liberation Sans", sans-serif' stroke="#222" stroke-width="0.1" >0</text>
<text x="325.7" y="146.6" font-size="5.3" fill="#222" text-anchor="start" font-weight="normal" font-style="normal" font-family='"Liberation Sans", sans-serif' stroke="#222" stroke-width="0.1" >500 bp</text>
<text x="379.2" y="146.6" font-size="5.3" fill="#222" text-anchor="start" font-weight="normal" font-style="normal" font-family='"Liberation Sans", sans-serif' stroke="#222" stroke-width="0.1" >1000 bp</text>
<text x="430.0" y="146.6" font-size="5.3" fill="#222" text-anchor="start" font-weight="normal" font-style="normal" font-family='"Liberation Sans", sans-serif' stroke="#222" stroke-width="0.1" >1500 bp</text>
<text x="481.2" y="146.6" font-size="5.3" fill="#222" text-anchor="start" font-weight="normal" font-style="normal" font-family='"Liberation Sans", sans-serif' stroke="#222" stroke-width="0.1" >2000 bp</text>
<rect x="285.6" y="147.9" width="217" height="11.9" fill="#f3fafd"/>
<text x="269.3" y="157.6" font-size="6.4" fill="#222" text-anchor="start" font-weight="normal" font-style="normal" font-family='"Liberation Sans", sans-serif' stroke="#222" stroke-width="0.1" >CpG</text>
<rect x="285.2" y="147.9" width="0.9" height="11.9" fill="#e2643c" fill-opacity="0.45"/>
<rect x="298.6" y="147.9" width="0.9" height="11.9" fill="#e2643c" fill-opacity="0.35"/>
<rect x="309.9" y="147.9" width="0.9" height="11.9" fill="#e2643c" fill-opacity="0.7"/>
<rect x="322.8" y="147.9" width="0.9" height="11.9" fill="#e2643c" fill-opacity="0.35"/>
<rect x="326.3" y="147.9" width="0.9" height="11.9" fill="#e2643c" fill-opacity="0.5"/>
<rect x="333.2" y="147.9" width="0.9" height="11.9" fill="#e2643c" fill-opacity="0.55"/>
<rect x="370.5" y="147.9" width="0.9" height="11.9" fill="#e2643c" fill-opacity="0.75"/>
<rect x="378.0" y="147.9" width="2.8" height="11.9" fill="#e2643c" fill-opacity="0.3"/>
<rect x="382.3" y="147.9" width="1.4" height="11.9" fill="#e2643c" fill-opacity="0.75"/>
<rect x="384.0" y="147.9" width="3.6" height="11.9" fill="#e2643c" fill-opacity="0.35"/>
<rect x="389.9" y="147.9" width="1.0" height="11.9" fill="#e2643c" fill-opacity="0.8"/>
<rect x="391.6" y="147.9" width="1.0" height="11.9" fill="#e2643c" fill-opacity="0.5"/>
<rect x="393.6" y="147.9" width="4.0" height="11.9" fill="#e2643c" fill-opacity="0.25"/>
<rect x="399.8" y="147.9" width="0.9" height="11.9" fill="#e2643c" fill-opacity="0.45"/>
<rect x="401.9" y="147.9" width="1.0" height="11.9" fill="#e2643c" fill-opacity="0.55"/>
<rect x="403.6" y="147.9" width="3.2" height="11.9" fill="#e2643c" fill-opacity="0.3"/>
<rect x="408.5" y="147.9" width="2.7" height="11.9" fill="#e2643c" fill-opacity="0.45"/>
<rect x="411.8" y="147.9" width="2.3" height="11.9" fill="#e2643c" fill-opacity="0.7"/>
<rect x="415.8" y="147.9" width="1.0" height="11.9" fill="#e2643c" fill-opacity="0.55"/>
<rect x="417.6" y="147.9" width="1.1" height="11.9" fill="#e2643c" fill-opacity="0.8"/>
<rect x="419.0" y="147.9" width="2.7" height="11.9" fill="#e2643c" fill-opacity="0.3"/>
<rect x="420.0" y="147.9" width="1.7" height="11.9" fill="#e2643c" fill-opacity="0.35"/>
<rect x="423.8" y="147.9" width="5.3" height="11.9" fill="#e2643c" fill-opacity="0.25"/>
<rect x="433.1" y="147.9" width="0.9" height="11.9" fill="#e2643c" fill-opacity="0.4"/>
<rect x="435.9" y="147.9" width="0.9" height="11.9" fill="#e2643c" fill-opacity="0.5"/>
<rect x="438.3" y="147.9" width="1.9" height="11.9" fill="#e2643c" fill-opacity="0.25"/>
<rect x="444.1" y="147.9" width="0.9" height="11.9" fill="#e2643c" fill-opacity="0.45"/>
<rect x="448.0" y="147.9" width="0.9" height="11.9" fill="#e2643c" fill-opacity="0.45"/>
<rect x="450.9" y="147.9" width="0.9" height="11.9" fill="#e2643c" fill-opacity="0.35"/>
<rect x="453.3" y="147.9" width="0.9" height="11.9" fill="#e2643c" fill-opacity="0.25"/>
<rect x="457.7" y="147.9" width="1.3" height="11.9" fill="#e2643c" fill-opacity="0.8"/>
<rect x="461.9" y="147.9" width="0.9" height="11.9" fill="#e2643c" fill-opacity="0.5"/>
<rect x="463.8" y="147.9" width="1.5" height="11.9" fill="#e2643c" fill-opacity="0.25"/>
<rect x="473.5" y="147.9" width="1.9" height="11.9" fill="#e2643c" fill-opacity="0.5"/>
<rect x="476.9" y="147.9" width="0.9" height="11.9" fill="#e2643c" fill-opacity="0.5"/>
<rect x="479.2" y="147.9" width="1.0" height="11.9" fill="#e2643c" fill-opacity="0.3"/>
<rect x="485.1" y="147.9" width="0.9" height="11.9" fill="#e2643c" fill-opacity="0.5"/>
<rect x="491.7" y="147.9" width="2.0" height="11.9" fill="#e2643c" fill-opacity="0.75"/>
<line x1="277" y1="159.3" x2="294" y2="172.6" stroke="#222" stroke-width="1.1" stroke-dasharray="3.2,1.9"/>
<line x1="322" y1="172.5" x2="506" y2="160.6" stroke="#222" stroke-width="1.1" stroke-dasharray="3.2,1.9"/>
<line x1="287.5" y1="177.8" x2="506.8" y2="177.8" stroke="#5e5e5e" stroke-width="1.3"/>
<rect x="307.2" y="173.0" width="1.8" height="9.9" fill="#b4d4f4" stroke="#7eb0e6" stroke-width="0.5"/>
<rect x="344.0" y="172.8" width="3.1" height="10.3" fill="#1c3c7e"/>
<rect x="386.1" y="172.8" width="3.0" height="10.3" fill="#1c3c7e"/>
<rect x="431.9" y="172.8" width="2.6" height="10.3" fill="#1c3c7e"/>
<rect x="435.1" y="172.8" width="2.2" height="10.3" fill="#1c3c7e"/>
<rect x="440.5" y="172.8" width="2.2" height="10.3" fill="#1c3c7e"/>
<rect x="454.4" y="172.8" width="1.8" height="10.3" fill="#1c3c7e"/>
<rect x="467.2" y="172.8" width="1.7" height="10.3" fill="#1c3c7e"/>
<rect x="473.8" y="172.8" width="1.9" height="10.3" fill="#1c3c7e"/>
<rect x="485.8" y="172.8" width="1.4" height="10.3" fill="#1c3c7e"/>
<rect x="487.9" y="172.8" width="1.7" height="10.3" fill="#1c3c7e"/>
<rect x="493.6" y="172.8" width="3.0" height="10.3" fill="#1c3c7e"/>
<rect x="496.6" y="172.8" width="2.0" height="10.3" fill="#8fc0ee"/>
<line x1="287.5" y1="192.0" x2="506.8" y2="192.0" stroke="#5e5e5e" stroke-width="1.3"/>
<rect x="311.7" y="187.2" width="1.6" height="9.9" fill="#b4d4f4" stroke="#7eb0e6" stroke-width="0.5"/>
<rect x="344.0" y="187.0" width="3.1" height="10.3" fill="#1c3c7e"/>
<rect x="386.1" y="187.0" width="3.0" height="10.3" fill="#1c3c7e"/>
<rect x="431.9" y="187.0" width="2.6" height="10.3" fill="#1c3c7e"/>
<rect x="435.1" y="187.0" width="2.2" height="10.3" fill="#1c3c7e"/>
<rect x="440.5" y="187.0" width="2.2" height="10.3" fill="#1c3c7e"/>
<rect x="454.4" y="187.0" width="1.8" height="10.3" fill="#1c3c7e"/>
<rect x="467.2" y="187.0" width="1.7" height="10.3" fill="#1c3c7e"/>
<rect x="473.8" y="187.0" width="1.9" height="10.3" fill="#1c3c7e"/>
<rect x="485.8" y="187.0" width="1.4" height="10.3" fill="#1c3c7e"/>
<rect x="487.9" y="187.0" width="1.7" height="10.3" fill="#1c3c7e"/>
<rect x="493.6" y="187.0" width="3.0" height="10.3" fill="#1c3c7e"/>
<rect x="496.6" y="187.0" width="2.0" height="10.3" fill="#8fc0ee"/>
<line x1="287.5" y1="206.1" x2="506.8" y2="206.1" stroke="#5e5e5e" stroke-width="1.3"/>
<rect x="315.2" y="201.29999999999998" width="3.2" height="9.9" fill="#b4d4f4" stroke="#7eb0e6" stroke-width="0.5"/>
<rect x="344.0" y="201.1" width="3.1" height="10.3" fill="#1c3c7e"/>
<rect x="386.1" y="201.1" width="3.0" height="10.3" fill="#1c3c7e"/>
<rect x="431.9" y="201.1" width="2.6" height="10.3" fill="#1c3c7e"/>
<rect x="435.1" y="201.1" width="2.2" height="10.3" fill="#1c3c7e"/>
<rect x="440.5" y="201.1" width="2.2" height="10.3" fill="#1c3c7e"/>
<rect x="454.4" y="201.1" width="1.8" height="10.3" fill="#1c3c7e"/>
<rect x="467.2" y="201.1" width="1.7" height="10.3" fill="#1c3c7e"/>
<rect x="473.8" y="201.1" width="1.9" height="10.3" fill="#1c3c7e"/>
<rect x="485.8" y="201.1" width="1.4" height="10.3" fill="#1c3c7e"/>
<rect x="487.9" y="201.1" width="1.7" height="10.3" fill="#1c3c7e"/>
<rect x="493.6" y="201.1" width="3.0" height="10.3" fill="#1c3c7e"/>
<rect x="496.6" y="201.1" width="2.0" height="10.3" fill="#8fc0ee"/>
<text x="267.3" y="194.3" font-size="6.4" fill="#222" text-anchor="start" font-weight="normal" font-style="italic" font-family='"Liberation Sans", sans-serif' stroke="#222" stroke-width="0.1" >Asns</text>
<text x="281.5" y="221.7" font-size="6.5" fill="#222" text-anchor="start" font-weight="normal" font-style="normal" font-family='"Liberation Sans", sans-serif' stroke="#222" stroke-width="0.1" >exon</text>
<text x="312.3" y="221.7" font-size="6.4" fill="#222" text-anchor="middle" font-weight="normal" font-style="normal" font-family='"Liberation Sans", sans-serif' stroke="#222" stroke-width="0.1" >1</text>
<text x="345.5" y="221.7" font-size="6.4" fill="#222" text-anchor="middle" font-weight="normal" font-style="normal" font-family='"Liberation Sans", sans-serif' stroke="#222" stroke-width="0.1" >2</text>
<text x="387.6" y="221.7" font-size="6.4" fill="#222" text-anchor="middle" font-weight="normal" font-style="normal" font-family='"Liberation Sans", sans-serif' stroke="#222" stroke-width="0.1" >3</text>
<text x="430.6" y="221.7" font-size="6.4" fill="#222" text-anchor="middle" font-weight="normal" font-style="normal" font-family='"Liberation Sans", sans-serif' stroke="#222" stroke-width="0.1" >4</text>
<text x="435.8" y="221.7" font-size="6.4" fill="#222" text-anchor="middle" font-weight="normal" font-style="normal" font-family='"Liberation Sans", sans-serif' stroke="#222" stroke-width="0.1" >5</text>
<text x="442.2" y="221.7" font-size="6.4" fill="#222" text-anchor="middle" font-weight="normal" font-style="normal" font-family='"Liberation Sans", sans-serif' stroke="#222" stroke-width="0.1" >6</text>
<text x="455.3" y="221.7" font-size="6.4" fill="#222" text-anchor="middle" font-weight="normal" font-style="normal" font-family='"Liberation Sans", sans-serif' stroke="#222" stroke-width="0.1" >7</text>
<text x="467.8" y="221.7" font-size="6.4" fill="#222" text-anchor="middle" font-weight="normal" font-style="normal" font-family='"Liberation Sans", sans-serif' stroke="#222" stroke-width="0.1" >8</text>
<text x="474.8" y="221.7" font-size="6.4" fill="#222" text-anchor="middle" font-weight="normal" font-style="normal" font-family='"Liberation Sans", sans-serif' stroke="#222" stroke-width="0.1" >9</text>
<text x="485.3" y="221.7" font-size="6.4" fill="#222" text-anchor="middle" font-weight="normal" font-style="normal" font-family='"Liberation Sans", sans-serif' stroke="#222" stroke-width="0.1" >10</text>
<text x="494.0" y="221.7" font-size="6.4" fill="#222" text-anchor="middle" font-weight="normal" font-style="normal" font-family='"Liberation Sans", sans-serif' stroke="#222" stroke-width="0.1" >11</text>
<text x="502.2" y="221.7" font-size="6.4" fill="#222" text-anchor="middle" font-weight="normal" font-style="normal" font-family='"Liberation Sans", sans-serif' stroke="#222" stroke-width="0.1" >12</text>
<!-- panel C -->
<text transform="translate(67.70,257.80) scale(0.94,1)" font-size="6.45" fill="#1a1a1a" text-anchor="middle" font-family='"Liberation Sans", sans-serif'>Brain</text>
<text x="35.40" y="264.80" font-size="3.8" fill="#222" stroke="#222" stroke-width="0.04" text-anchor="end" font-family='"Liberation Sans", sans-serif'>100</text>
<line x1="38.30" y1="263.50" x2="41.70" y2="263.50" stroke="#222" stroke-width="0.8"/>
<text x="35.40" y="269.18" font-size="3.8" fill="#222" stroke="#222" stroke-width="0.04" text-anchor="end" font-family='"Liberation Sans", sans-serif'>90</text>
<line x1="38.30" y1="267.88" x2="41.70" y2="267.88" stroke="#222" stroke-width="0.8"/>
<text x="35.40" y="273.56" font-size="3.8" fill="#222" stroke="#222" stroke-width="0.04" text-anchor="end" font-family='"Liberation Sans", sans-serif'>80</text>
<line x1="38.30" y1="272.26" x2="41.70" y2="272.26" stroke="#222" stroke-width="0.8"/>
<text x="35.40" y="277.94" font-size="3.8" fill="#222" stroke="#222" stroke-width="0.04" text-anchor="end" font-family='"Liberation Sans", sans-serif'>70</text>
<line x1="38.30" y1="276.64" x2="41.70" y2="276.64" stroke="#222" stroke-width="0.8"/>
<text x="35.40" y="282.32" font-size="3.8" fill="#222" stroke="#222" stroke-width="0.04" text-anchor="end" font-family='"Liberation Sans", sans-serif'>60</text>
<line x1="38.30" y1="281.02" x2="41.70" y2="281.02" stroke="#222" stroke-width="0.8"/>
<text x="35.40" y="286.70" font-size="3.8" fill="#222" stroke="#222" stroke-width="0.04" text-anchor="end" font-family='"Liberation Sans", sans-serif'>50</text>
<line x1="38.30" y1="285.40" x2="41.70" y2="285.40" stroke="#222" stroke-width="0.8"/>
<text x="35.40" y="291.08" font-size="3.8" fill="#222" stroke="#222" stroke-width="0.04" text-anchor="end" font-family='"Liberation Sans", sans-serif'>40</text>
<line x1="38.30" y1="289.78" x2="41.70" y2="289.78" stroke="#222" stroke-width="0.8"/>
<text x="35.40" y="295.46" font-size="3.8" fill="#222" stroke="#222" stroke-width="0.04" text-anchor="end" font-family='"Liberation Sans", sans-serif'>30</text>
<line x1="38.30" y1="294.16" x2="41.70" y2="294.16" stroke="#222" stroke-width="0.8"/>
<text x="35.40" y="299.84" font-size="3.8" fill="#222" stroke="#222" stroke-width="0.04" text-anchor="end" font-family='"Liberation Sans", sans-serif'>20</text>
<line x1="38.30" y1="298.54" x2="41.70" y2="298.54" stroke="#222" stroke-width="0.8"/>
<text x="35.40" y="304.22" font-size="3.8" fill="#222" stroke="#222" stroke-width="0.04" text-anchor="end" font-family='"Liberation Sans", sans-serif'>10</text>
<line x1="38.30" y1="302.92" x2="41.70" y2="302.92" stroke="#222" stroke-width="0.8"/>
<text x="35.40" y="308.60" font-size="3.8" fill="#222" stroke="#222" stroke-width="0.04" text-anchor="end" font-family='"Liberation Sans", sans-serif'>0</text>
<line x1="38.30" y1="307.30" x2="41.70" y2="307.30" stroke="#222" stroke-width="0.8"/>
<rect x="44.00" y="264.10" width="4.7" height="42.90" fill="#1e3e84" stroke="#5a7ab8" stroke-width="0.4"/>
<rect x="42.20" y="306.40" width="52.2" height="2.6" fill="#9a9a9a"/>
<line x1="41.70" y1="309.20" x2="94.40" y2="309.20" stroke="#333" stroke-width="0.9"/>
<line x1="41.70" y1="262.70" x2="41.70" y2="309.60" stroke="#111" stroke-width="1.2"/>
<line x1="42.70" y1="309.20" x2="42.70" y2="311.80" stroke="#111" stroke-width="0.9"/>
<text x="42.70" y="319.10" font-size="4.0" fill="#222" stroke="#222" stroke-width="0.04" text-anchor="middle" font-family='"Liberation Sans", sans-serif'>0</text>
<line x1="52.60" y1="309.20" x2="52.60" y2="311.80" stroke="#111" stroke-width="0.9"/>
<text x="52.60" y="319.10" font-size="4.0" fill="#222" stroke="#222" stroke-width="0.04" text-anchor="middle" font-family='"Liberation Sans", sans-serif'>20</text>
<line x1="62.50" y1="309.20" x2="62.50" y2="311.80" stroke="#111" stroke-width="0.9"/>
<text x="62.50" y="319.10" font-size="4.0" fill="#222" stroke="#222" stroke-width="0.04" text-anchor="middle" font-family='"Liberation Sans", sans-serif'>40</text>
<line x1="72.40" y1="309.20" x2="72.40" y2="311.80" stroke="#111" stroke-width="0.9"/>
<text x="72.40" y="319.10" font-size="4.0" fill="#222" stroke="#222" stroke-width="0.04" text-anchor="middle" font-family='"Liberation Sans", sans-serif'>60</text>
<line x1="82.30" y1="309.20" x2="82.30" y2="311.80" stroke="#111" stroke-width="0.9"/>
<text x="82.30" y="319.10" font-size="4.0" fill="#222" stroke="#222" stroke-width="0.04" text-anchor="middle" font-family='"Liberation Sans", sans-serif'>80</text>
<line x1="92.20" y1="309.20" x2="92.20" y2="311.80" stroke="#111" stroke-width="0.9"/>
<text x="92.20" y="319.10" font-size="4.0" fill="#222" stroke="#222" stroke-width="0.04" text-anchor="middle" font-family='"Liberation Sans", sans-serif'>100</text>
<text transform="translate(137.60,257.80) scale(0.94,1)" font-size="6.45" fill="#1a1a1a" text-anchor="middle" font-family='"Liberation Sans", sans-serif'>Heart</text>
<text x="105.30" y="264.80" font-size="3.8" fill="#222" stroke="#222" stroke-width="0.04" text-anchor="end" font-family='"Liberation Sans", sans-serif'>100</text>
<line x1="108.20" y1="263.50" x2="111.60" y2="263.50" stroke="#222" stroke-width="0.8"/>
<text x="105.30" y="269.18" font-size="3.8" fill="#222" stroke="#222" stroke-width="0.04" text-anchor="end" font-family='"Liberation Sans", sans-serif'>90</text>
<line x1="108.20" y1="267.88" x2="111.60" y2="267.88" stroke="#222" stroke-width="0.8"/>
<text x="105.30" y="273.56" font-size="3.8" fill="#222" stroke="#222" stroke-width="0.04" text-anchor="end" font-family='"Liberation Sans", sans-serif'>80</text>
<line x1="108.20" y1="272.26" x2="111.60" y2="272.26" stroke="#222" stroke-width="0.8"/>
<text x="105.30" y="277.94" font-size="3.8" fill="#222" stroke="#222" stroke-width="0.04" text-anchor="end" font-family='"Liberation Sans", sans-serif'>70</text>
<line x1="108.20" y1="276.64" x2="111.60" y2="276.64" stroke="#222" stroke-width="0.8"/>
<text x="105.30" y="282.32" font-size="3.8" fill="#222" stroke="#222" stroke-width="0.04" text-anchor="end" font-family='"Liberation Sans", sans-serif'>60</text>
<line x1="108.20" y1="281.02" x2="111.60" y2="281.02" stroke="#222" stroke-width="0.8"/>
<text x="105.30" y="286.70" font-size="3.8" fill="#222" stroke="#222" stroke-width="0.04" text-anchor="end" font-family='"Liberation Sans", sans-serif'>50</text>
<line x1="108.20" y1="285.40" x2="111.60" y2="285.40" stroke="#222" stroke-width="0.8"/>
<text x="105.30" y="291.08" font-size="3.8" fill="#222" stroke="#222" stroke-width="0.04" text-anchor="end" font-family='"Liberation Sans", sans-serif'>40</text>
<line x1="108.20" y1="289.78" x2="111.60" y2="289.78" stroke="#222" stroke-width="0.8"/>
<text x="105.30" y="295.46" font-size="3.8" fill="#222" stroke="#222" stroke-width="0.04" text-anchor="end" font-family='"Liberation Sans", sans-serif'>30</text>
<line x1="108.20" y1="294.16" x2="111.60" y2="294.16" stroke="#222" stroke-width="0.8"/>
<text x="105.30" y="299.84" font-size="3.8" fill="#222" stroke="#222" stroke-width="0.04" text-anchor="end" font-family='"Liberation Sans", sans-serif'>20</text>
<line x1="108.20" y1="298.54" x2="111.60" y2="298.54" stroke="#222" stroke-width="0.8"/>
<text x="105.30" y="304.22" font-size="3.8" fill="#222" stroke="#222" stroke-width="0.04" text-anchor="end" font-family='"Liberation Sans", sans-serif'>10</text>
<line x1="108.20" y1="302.92" x2="111.60" y2="302.92" stroke="#222" stroke-width="0.8"/>
<text x="105.30" y="308.60" font-size="3.8" fill="#222" stroke="#222" stroke-width="0.04" text-anchor="end" font-family='"Liberation Sans", sans-serif'>0</text>
<line x1="108.20" y1="307.30" x2="111.60" y2="307.30" stroke="#222" stroke-width="0.8"/>
<rect x="113.90" y="264.10" width="4.7" height="42.90" fill="#1e3e84" stroke="#5a7ab8" stroke-width="0.4"/>
<rect x="112.10" y="306.40" width="52.2" height="2.6" fill="#9a9a9a"/>
<line x1="111.60" y1="309.20" x2="164.30" y2="309.20" stroke="#333" stroke-width="0.9"/>
<line x1="111.60" y1="262.70" x2="111.60" y2="309.60" stroke="#111" stroke-width="1.2"/>
<line x1="112.60" y1="309.20" x2="112.60" y2="311.80" stroke="#111" stroke-width="0.9"/>
<text x="112.60" y="319.10" font-size="4.0" fill="#222" stroke="#222" stroke-width="0.04" text-anchor="middle" font-family='"Liberation Sans", sans-serif'>0</text>
<line x1="122.50" y1="309.20" x2="122.50" y2="311.80" stroke="#111" stroke-width="0.9"/>
<text x="122.50" y="319.10" font-size="4.0" fill="#222" stroke="#222" stroke-width="0.04" text-anchor="middle" font-family='"Liberation Sans", sans-serif'>20</text>
<line x1="132.40" y1="309.20" x2="132.40" y2="311.80" stroke="#111" stroke-width="0.9"/>
<text x="132.40" y="319.10" font-size="4.0" fill="#222" stroke="#222" stroke-width="0.04" text-anchor="middle" font-family='"Liberation Sans", sans-serif'>40</text>
<line x1="142.30" y1="309.20" x2="142.30" y2="311.80" stroke="#111" stroke-width="0.9"/>
<text x="142.30" y="319.10" font-size="4.0" fill="#222" stroke="#222" stroke-width="0.04" text-anchor="middle" font-family='"Liberation Sans", sans-serif'>60</text>
<line x1="152.20" y1="309.20" x2="152.20" y2="311.80" stroke="#111" stroke-width="0.9"/>
<text x="152.20" y="319.10" font-size="4.0" fill="#222" stroke="#222" stroke-width="0.04" text-anchor="middle" font-family='"Liberation Sans", sans-serif'>80</text>
<line x1="162.10" y1="309.20" x2="162.10" y2="311.80" stroke="#111" stroke-width="0.9"/>
<text x="162.10" y="319.10" font-size="4.0" fill="#222" stroke="#222" stroke-width="0.04" text-anchor="middle" font-family='"Liberation Sans", sans-serif'>100</text>
<text transform="translate(207.50,257.80) scale(0.94,1)" font-size="6.45" fill="#1a1a1a" text-anchor="middle" font-family='"Liberation Sans", sans-serif'>Intestine</text>
<text x="175.20" y="264.80" font-size="3.8" fill="#222" stroke="#222" stroke-width="0.04" text-anchor="end" font-family='"Liberation Sans", sans-serif'>100</text>
<line x1="178.10" y1="263.50" x2="181.50" y2="263.50" stroke="#222" stroke-width="0.8"/>
<text x="175.20" y="269.18" font-size="3.8" fill="#222" stroke="#222" stroke-width="0.04" text-anchor="end" font-family='"Liberation Sans", sans-serif'>90</text>
<line x1="178.10" y1="267.88" x2="181.50" y2="267.88" stroke="#222" stroke-width="0.8"/>
<text x="175.20" y="273.56" font-size="3.8" fill="#222" stroke="#222" stroke-width="0.04" text-anchor="end" font-family='"Liberation Sans", sans-serif'>80</text>
<line x1="178.10" y1="272.26" x2="181.50" y2="272.26" stroke="#222" stroke-width="0.8"/>
<text x="175.20" y="277.94" font-size="3.8" fill="#222" stroke="#222" stroke-width="0.04" text-anchor="end" font-family='"Liberation Sans", sans-serif'>70</text>
<line x1="178.10" y1="276.64" x2="181.50" y2="276.64" stroke="#222" stroke-width="0.8"/>
<text x="175.20" y="282.32" font-size="3.8" fill="#222" stroke="#222" stroke-width="0.04" text-anchor="end" font-family='"Liberation Sans", sans-serif'>60</text>
<line x1="178.10" y1="281.02" x2="181.50" y2="281.02" stroke="#222" stroke-width="0.8"/>
<text x="175.20" y="286.70" font-size="3.8" fill="#222" stroke="#222" stroke-width="0.04" text-anchor="end" font-family='"Liberation Sans", sans-serif'>50</text>
<line x1="178.10" y1="285.40" x2="181.50" y2="285.40" stroke="#222" stroke-width="0.8"/>
<text x="175.20" y="291.08" font-size="3.8" fill="#222" stroke="#222" stroke-width="0.04" text-anchor="end" font-family='"Liberation Sans", sans-serif'>40</text>
<line x1="178.10" y1="289.78" x2="181.50" y2="289.78" stroke="#222" stroke-width="0.8"/>
<text x="175.20" y="295.46" font-size="3.8" fill="#222" stroke="#222" stroke-width="0.04" text-anchor="end" font-family='"Liberation Sans", sans-serif'>30</text>
<line x1="178.10" y1="294.16" x2="181.50" y2="294.16" stroke="#222" stroke-width="0.8"/>
<text x="175.20" y="299.84" font-size="3.8" fill="#222" stroke="#222" stroke-width="0.04" text-anchor="end" font-family='"Liberation Sans", sans-serif'>20</text>
<line x1="178.10" y1="298.54" x2="181.50" y2="298.54" stroke="#222" stroke-width="0.8"/>
<text x="175.20" y="304.22" font-size="3.8" fill="#222" stroke="#222" stroke-width="0.04" text-anchor="end" font-family='"Liberation Sans", sans-serif'>10</text>
<line x1="178.10" y1="302.92" x2="181.50" y2="302.92" stroke="#222" stroke-width="0.8"/>
<text x="175.20" y="308.60" font-size="3.8" fill="#222" stroke="#222" stroke-width="0.04" text-anchor="end" font-family='"Liberation Sans", sans-serif'>0</text>
<line x1="178.10" y1="307.30" x2="181.50" y2="307.30" stroke="#222" stroke-width="0.8"/>
<rect x="183.80" y="264.10" width="4.7" height="42.90" fill="#1e3e84" stroke="#5a7ab8" stroke-width="0.4"/>
<rect x="182.00" y="306.40" width="52.2" height="2.6" fill="#9a9a9a"/>
<line x1="181.50" y1="309.20" x2="234.20" y2="309.20" stroke="#333" stroke-width="0.9"/>
<line x1="181.50" y1="262.70" x2="181.50" y2="309.60" stroke="#111" stroke-width="1.2"/>
<line x1="182.50" y1="309.20" x2="182.50" y2="311.80" stroke="#111" stroke-width="0.9"/>
<text x="182.50" y="319.10" font-size="4.0" fill="#222" stroke="#222" stroke-width="0.04" text-anchor="middle" font-family='"Liberation Sans", sans-serif'>0</text>
<line x1="192.40" y1="309.20" x2="192.40" y2="311.80" stroke="#111" stroke-width="0.9"/>
<text x="192.40" y="319.10" font-size="4.0" fill="#222" stroke="#222" stroke-width="0.04" text-anchor="middle" font-family='"Liberation Sans", sans-serif'>20</text>
<line x1="202.30" y1="309.20" x2="202.30" y2="311.80" stroke="#111" stroke-width="0.9"/>
<text x="202.30" y="319.10" font-size="4.0" fill="#222" stroke="#222" stroke-width="0.04" text-anchor="middle" font-family='"Liberation Sans", sans-serif'>40</text>
<line x1="212.20" y1="309.20" x2="212.20" y2="311.80" stroke="#111" stroke-width="0.9"/>
<text x="212.20" y="319.10" font-size="4.0" fill="#222" stroke="#222" stroke-width="0.04" text-anchor="middle" font-family='"Liberation Sans", sans-serif'>60</text>
<line x1="222.10" y1="309.20" x2="222.10" y2="311.80" stroke="#111" stroke-width="0.9"/>
<text x="222.10" y="319.10" font-size="4.0" fill="#222" stroke="#222" stroke-width="0.04" text-anchor="middle" font-family='"Liberation Sans", sans-serif'>80</text>
<line x1="232.00" y1="309.20" x2="232.00" y2="311.80" stroke="#111" stroke-width="0.9"/>
<text x="232.00" y="319.10" font-size="4.0" fill="#222" stroke="#222" stroke-width="0.04" text-anchor="middle" font-family='"Liberation Sans", sans-serif'>100</text>
<text transform="translate(277.50,257.80) scale(0.94,1)" font-size="6.45" fill="#1a1a1a" text-anchor="middle" font-family='"Liberation Sans", sans-serif'>Liver</text>
<text x="245.20" y="264.80" font-size="3.8" fill="#222" stroke="#222" stroke-width="0.04" text-anchor="end" font-family='"Liberation Sans", sans-serif'>100</text>
<line x1="248.10" y1="263.50" x2="251.50" y2="263.50" stroke="#222" stroke-width="0.8"/>
<text x="245.20" y="269.18" font-size="3.8" fill="#222" stroke="#222" stroke-width="0.04" text-anchor="end" font-family='"Liberation Sans", sans-serif'>90</text>
<line x1="248.10" y1="267.88" x2="251.50" y2="267.88" stroke="#222" stroke-width="0.8"/>
<text x="245.20" y="273.56" font-size="3.8" fill="#222" stroke="#222" stroke-width="0.04" text-anchor="end" font-family='"Liberation Sans", sans-serif'>80</text>
<line x1="248.10" y1="272.26" x2="251.50" y2="272.26" stroke="#222" stroke-width="0.8"/>
<text x="245.20" y="277.94" font-size="3.8" fill="#222" stroke="#222" stroke-width="0.04" text-anchor="end" font-family='"Liberation Sans", sans-serif'>70</text>
<line x1="248.10" y1="276.64" x2="251.50" y2="276.64" stroke="#222" stroke-width="0.8"/>
<text x="245.20" y="282.32" font-size="3.8" fill="#222" stroke="#222" stroke-width="0.04" text-anchor="end" font-family='"Liberation Sans", sans-serif'>60</text>
<line x1="248.10" y1="281.02" x2="251.50" y2="281.02" stroke="#222" stroke-width="0.8"/>
<text x="245.20" y="286.70" font-size="3.8" fill="#222" stroke="#222" stroke-width="0.04" text-anchor="end" font-family='"Liberation Sans", sans-serif'>50</text>
<line x1="248.10" y1="285.40" x2="251.50" y2="285.40" stroke="#222" stroke-width="0.8"/>
<text x="245.20" y="291.08" font-size="3.8" fill="#222" stroke="#222" stroke-width="0.04" text-anchor="end" font-family='"Liberation Sans", sans-serif'>40</text>
<line x1="248.10" y1="289.78" x2="251.50" y2="289.78" stroke="#222" stroke-width="0.8"/>
<text x="245.20" y="295.46" font-size="3.8" fill="#222" stroke="#222" stroke-width="0.04" text-anchor="end" font-family='"Liberation Sans", sans-serif'>30</text>
<line x1="248.10" y1="294.16" x2="251.50" y2="294.16" stroke="#222" stroke-width="0.8"/>
<text x="245.20" y="299.84" font-size="3.8" fill="#222" stroke="#222" stroke-width="0.04" text-anchor="end" font-family='"Liberation Sans", sans-serif'>20</text>
<line x1="248.10" y1="298.54" x2="251.50" y2="298.54" stroke="#222" stroke-width="0.8"/>
<text x="245.20" y="304.22" font-size="3.8" fill="#222" stroke="#222" stroke-width="0.04" text-anchor="end" font-family='"Liberation Sans", sans-serif'>10</text>
<line x1="248.10" y1="302.92" x2="251.50" y2="302.92" stroke="#222" stroke-width="0.8"/>
<text x="245.20" y="308.60" font-size="3.8" fill="#222" stroke="#222" stroke-width="0.04" text-anchor="end" font-family='"Liberation Sans", sans-serif'>0</text>
<line x1="248.10" y1="307.30" x2="251.50" y2="307.30" stroke="#222" stroke-width="0.8"/>
<rect x="253.80" y="264.10" width="4.7" height="42.90" fill="#1e3e84" stroke="#5a7ab8" stroke-width="0.4"/>
<rect x="252.00" y="306.40" width="52.2" height="2.6" fill="#9a9a9a"/>
<line x1="251.50" y1="309.20" x2="304.20" y2="309.20" stroke="#333" stroke-width="0.9"/>
<line x1="251.50" y1="262.70" x2="251.50" y2="309.60" stroke="#111" stroke-width="1.2"/>
<line x1="252.50" y1="309.20" x2="252.50" y2="311.80" stroke="#111" stroke-width="0.9"/>
<text x="252.50" y="319.10" font-size="4.0" fill="#222" stroke="#222" stroke-width="0.04" text-anchor="middle" font-family='"Liberation Sans", sans-serif'>0</text>
<line x1="262.40" y1="309.20" x2="262.40" y2="311.80" stroke="#111" stroke-width="0.9"/>
<text x="262.40" y="319.10" font-size="4.0" fill="#222" stroke="#222" stroke-width="0.04" text-anchor="middle" font-family='"Liberation Sans", sans-serif'>20</text>
<line x1="272.30" y1="309.20" x2="272.30" y2="311.80" stroke="#111" stroke-width="0.9"/>
<text x="272.30" y="319.10" font-size="4.0" fill="#222" stroke="#222" stroke-width="0.04" text-anchor="middle" font-family='"Liberation Sans", sans-serif'>40</text>
<line x1="282.20" y1="309.20" x2="282.20" y2="311.80" stroke="#111" stroke-width="0.9"/>
<text x="282.20" y="319.10" font-size="4.0" fill="#222" stroke="#222" stroke-width="0.04" text-anchor="middle" font-family='"Liberation Sans", sans-serif'>60</text>
<line x1="292.10" y1="309.20" x2="292.10" y2="311.80" stroke="#111" stroke-width="0.9"/>
<text x="292.10" y="319.10" font-size="4.0" fill="#222" stroke="#222" stroke-width="0.04" text-anchor="middle" font-family='"Liberation Sans", sans-serif'>80</text>
<line x1="302.00" y1="309.20" x2="302.00" y2="311.80" stroke="#111" stroke-width="0.9"/>
<text x="302.00" y="319.10" font-size="4.0" fill="#222" stroke="#222" stroke-width="0.04" text-anchor="middle" font-family='"Liberation Sans", sans-serif'>100</text>
<text transform="translate(347.00,257.80) scale(0.94,1)" font-size="6.45" fill="#1a1a1a" text-anchor="middle" font-family='"Liberation Sans", sans-serif'>Spleen</text>
<text x="314.70" y="264.80" font-size="3.8" fill="#222" stroke="#222" stroke-width="0.04" text-anchor="end" font-family='"Liberation Sans", sans-serif'>100</text>
<line x1="317.60" y1="263.50" x2="321.00" y2="263.50" stroke="#222" stroke-width="0.8"/>
<text x="314.70" y="269.18" font-size="3.8" fill="#222" stroke="#222" stroke-width="0.04" text-anchor="end" font-family='"Liberation Sans", sans-serif'>90</text>
<line x1="317.60" y1="267.88" x2="321.00" y2="267.88" stroke="#222" stroke-width="0.8"/>
<text x="314.70" y="273.56" font-size="3.8" fill="#222" stroke="#222" stroke-width="0.04" text-anchor="end" font-family='"Liberation Sans", sans-serif'>80</text>
<line x1="317.60" y1="272.26" x2="321.00" y2="272.26" stroke="#222" stroke-width="0.8"/>
<text x="314.70" y="277.94" font-size="3.8" fill="#222" stroke="#222" stroke-width="0.04" text-anchor="end" font-family='"Liberation Sans", sans-serif'>70</text>
<line x1="317.60" y1="276.64" x2="321.00" y2="276.64" stroke="#222" stroke-width="0.8"/>
<text x="314.70" y="282.32" font-size="3.8" fill="#222" stroke="#222" stroke-width="0.04" text-anchor="end" font-family='"Liberation Sans", sans-serif'>60</text>
<line x1="317.60" y1="281.02" x2="321.00" y2="281.02" stroke="#222" stroke-width="0.8"/>
<text x="314.70" y="286.70" font-size="3.8" fill="#222" stroke="#222" stroke-width="0.04" text-anchor="end" font-family='"Liberation Sans", sans-serif'>50</text>
<line x1="317.60" y1="285.40" x2="321.00" y2="285.40" stroke="#222" stroke-width="0.8"/>
<text x="314.70" y="291.08" font-size="3.8" fill="#222" stroke="#222" stroke-width="0.04" text-anchor="end" font-family='"Liberation Sans", sans-serif'>40</text>
<line x1="317.60" y1="289.78" x2="321.00" y2="289.78" stroke="#222" stroke-width="0.8"/>
<text x="314.70" y="295.46" font-size="3.8" fill="#222" stroke="#222" stroke-width="0.04" text-anchor="end" font-family='"Liberation Sans", sans-serif'>30</text>
<line x1="317.60" y1="294.16" x2="321.00" y2="294.16" stroke="#222" stroke-width="0.8"/>
<text x="314.70" y="299.84" font-size="3.8" fill="#222" stroke="#222" stroke-width="0.04" text-anchor="end" font-family='"Liberation Sans", sans-serif'>20</text>
<line x1="317.60" y1="298.54" x2="321.00" y2="298.54" stroke="#222" stroke-width="0.8"/>
<text x="314.70" y="304.22" font-size="3.8" fill="#222" stroke="#222" stroke-width="0.04" text-anchor="end" font-family='"Liberation Sans", sans-serif'>10</text>
<line x1="317.60" y1="302.92" x2="321.00" y2="302.92" stroke="#222" stroke-width="0.8"/>
<text x="314.70" y="308.60" font-size="3.8" fill="#222" stroke="#222" stroke-width="0.04" text-anchor="end" font-family='"Liberation Sans", sans-serif'>0</text>
<line x1="317.60" y1="307.30" x2="321.00" y2="307.30" stroke="#222" stroke-width="0.8"/>
<rect x="323.30" y="264.10" width="4.7" height="42.90" fill="#1e3e84" stroke="#5a7ab8" stroke-width="0.4"/>
<rect x="321.50" y="306.40" width="52.2" height="2.6" fill="#9a9a9a"/>
<line x1="321.00" y1="309.20" x2="373.70" y2="309.20" stroke="#333" stroke-width="0.9"/>
<line x1="321.00" y1="262.70" x2="321.00" y2="309.60" stroke="#111" stroke-width="1.2"/>
<line x1="322.00" y1="309.20" x2="322.00" y2="311.80" stroke="#111" stroke-width="0.9"/>
<text x="322.00" y="319.10" font-size="4.0" fill="#222" stroke="#222" stroke-width="0.04" text-anchor="middle" font-family='"Liberation Sans", sans-serif'>0</text>
<line x1="331.90" y1="309.20" x2="331.90" y2="311.80" stroke="#111" stroke-width="0.9"/>
<text x="331.90" y="319.10" font-size="4.0" fill="#222" stroke="#222" stroke-width="0.04" text-anchor="middle" font-family='"Liberation Sans", sans-serif'>20</text>
<line x1="341.80" y1="309.20" x2="341.80" y2="311.80" stroke="#111" stroke-width="0.9"/>
<text x="341.80" y="319.10" font-size="4.0" fill="#222" stroke="#222" stroke-width="0.04" text-anchor="middle" font-family='"Liberation Sans", sans-serif'>40</text>
<line x1="351.70" y1="309.20" x2="351.70" y2="311.80" stroke="#111" stroke-width="0.9"/>
<text x="351.70" y="319.10" font-size="4.0" fill="#222" stroke="#222" stroke-width="0.04" text-anchor="middle" font-family='"Liberation Sans", sans-serif'>60</text>
<line x1="361.60" y1="309.20" x2="361.60" y2="311.80" stroke="#111" stroke-width="0.9"/>
<text x="361.60" y="319.10" font-size="4.0" fill="#222" stroke="#222" stroke-width="0.04" text-anchor="middle" font-family='"Liberation Sans", sans-serif'>80</text>
<line x1="371.50" y1="309.20" x2="371.50" y2="311.80" stroke="#111" stroke-width="0.9"/>
<text x="371.50" y="319.10" font-size="4.0" fill="#222" stroke="#222" stroke-width="0.04" text-anchor="middle" font-family='"Liberation Sans", sans-serif'>100</text>
<text transform="translate(67.90,345.30) scale(0.94,1)" font-size="6.45" fill="#1a1a1a" text-anchor="middle" font-family='"Liberation Sans", sans-serif'>Brain</text>
<text x="35.60" y="353.10" font-size="3.8" fill="#222" stroke="#222" stroke-width="0.04" text-anchor="end" font-family='"Liberation Sans", sans-serif'>100</text>
<line x1="38.50" y1="351.80" x2="41.90" y2="351.80" stroke="#222" stroke-width="0.8"/>
<text x="35.60" y="357.42" font-size="3.8" fill="#222" stroke="#222" stroke-width="0.04" text-anchor="end" font-family='"Liberation Sans", sans-serif'>90</text>
<line x1="38.50" y1="356.12" x2="41.90" y2="356.12" stroke="#222" stroke-width="0.8"/>
<text x="35.60" y="361.74" font-size="3.8" fill="#222" stroke="#222" stroke-width="0.04" text-anchor="end" font-family='"Liberation Sans", sans-serif'>80</text>
<line x1="38.50" y1="360.44" x2="41.90" y2="360.44" stroke="#222" stroke-width="0.8"/>
<text x="35.60" y="366.06" font-size="3.8" fill="#222" stroke="#222" stroke-width="0.04" text-anchor="end" font-family='"Liberation Sans", sans-serif'>70</text>
<line x1="38.50" y1="364.76" x2="41.90" y2="364.76" stroke="#222" stroke-width="0.8"/>
<text x="35.60" y="370.38" font-size="3.8" fill="#222" stroke="#222" stroke-width="0.04" text-anchor="end" font-family='"Liberation Sans", sans-serif'>60</text>
<line x1="38.50" y1="369.08" x2="41.90" y2="369.08" stroke="#222" stroke-width="0.8"/>
<text x="35.60" y="374.70" font-size="3.8" fill="#222" stroke="#222" stroke-width="0.04" text-anchor="end" font-family='"Liberation Sans", sans-serif'>50</text>
<line x1="38.50" y1="373.40" x2="41.90" y2="373.40" stroke="#222" stroke-width="0.8"/>
<text x="35.60" y="379.02" font-size="3.8" fill="#222" stroke="#222" stroke-width="0.04" text-anchor="end" font-family='"Liberation Sans", sans-serif'>40</text>
<line x1="38.50" y1="377.72" x2="41.90" y2="377.72" stroke="#222" stroke-width="0.8"/>
<text x="35.60" y="383.34" font-size="3.8" fill="#222" stroke="#222" stroke-width="0.04" text-anchor="end" font-family='"Liberation Sans", sans-serif'>30</text>
<line x1="38.50" y1="382.04" x2="41.90" y2="382.04" stroke="#222" stroke-width="0.8"/>
<text x="35.60" y="387.66" font-size="3.8" fill="#222" stroke="#222" stroke-width="0.04" text-anchor="end" font-family='"Liberation Sans", sans-serif'>20</text>
<line x1="38.50" y1="386.36" x2="41.90" y2="386.36" stroke="#222" stroke-width="0.8"/>
<text x="35.60" y="391.98" font-size="3.8" fill="#222" stroke="#222" stroke-width="0.04" text-anchor="end" font-family='"Liberation Sans", sans-serif'>10</text>
<line x1="38.50" y1="390.68" x2="41.90" y2="390.68" stroke="#222" stroke-width="0.8"/>
<text x="35.60" y="396.30" font-size="3.8" fill="#222" stroke="#222" stroke-width="0.04" text-anchor="end" font-family='"Liberation Sans", sans-serif'>0</text>
<line x1="38.50" y1="395.00" x2="41.90" y2="395.00" stroke="#222" stroke-width="0.8"/>
<rect x="44.20" y="352.40" width="4.7" height="42.30" fill="#e8b618" stroke="#f0cc60" stroke-width="0.4"/>
<rect x="42.40" y="394.10" width="52.2" height="2.6" fill="#9a9a9a"/>
<line x1="41.90" y1="396.90" x2="94.60" y2="396.90" stroke="#333" stroke-width="0.9"/>
<line x1="41.90" y1="351.00" x2="41.90" y2="397.30" stroke="#111" stroke-width="1.2"/>
<line x1="42.90" y1="396.90" x2="42.90" y2="399.50" stroke="#111" stroke-width="0.9"/>
<text x="42.90" y="406.80" font-size="4.0" fill="#222" stroke="#222" stroke-width="0.04" text-anchor="middle" font-family='"Liberation Sans", sans-serif'>0</text>
<text x="41.30" y="349.10" font-size="4.0" fill="#222" stroke="#222" stroke-width="0.04" text-anchor="middle" font-family='"Liberation Sans", sans-serif'>0</text>
<line x1="52.80" y1="396.90" x2="52.80" y2="399.50" stroke="#111" stroke-width="0.9"/>
<text x="52.80" y="406.80" font-size="4.0" fill="#222" stroke="#222" stroke-width="0.04" text-anchor="middle" font-family='"Liberation Sans", sans-serif'>20</text>
<text x="51.20" y="349.10" font-size="4.0" fill="#222" stroke="#222" stroke-width="0.04" text-anchor="middle" font-family='"Liberation Sans", sans-serif'>20</text>
<line x1="62.70" y1="396.90" x2="62.70" y2="399.50" stroke="#111" stroke-width="0.9"/>
<text x="62.70" y="406.80" font-size="4.0" fill="#222" stroke="#222" stroke-width="0.04" text-anchor="middle" font-family='"Liberation Sans", sans-serif'>40</text>
<text x="61.10" y="349.10" font-size="4.0" fill="#222" stroke="#222" stroke-width="0.04" text-anchor="middle" font-family='"Liberation Sans", sans-serif'>40</text>
<line x1="72.60" y1="396.90" x2="72.60" y2="399.50" stroke="#111" stroke-width="0.9"/>
<text x="72.60" y="406.80" font-size="4.0" fill="#222" stroke="#222" stroke-width="0.04" text-anchor="middle" font-family='"Liberation Sans", sans-serif'>60</text>
<text x="71.00" y="349.10" font-size="4.0" fill="#222" stroke="#222" stroke-width="0.04" text-anchor="middle" font-family='"Liberation Sans", sans-serif'>60</text>
<line x1="82.50" y1="396.90" x2="82.50" y2="399.50" stroke="#111" stroke-width="0.9"/>
<text x="82.50" y="406.80" font-size="4.0" fill="#222" stroke="#222" stroke-width="0.04" text-anchor="middle" font-family='"Liberation Sans", sans-serif'>80</text>
<text x="80.90" y="349.10" font-size="4.0" fill="#222" stroke="#222" stroke-width="0.04" text-anchor="middle" font-family='"Liberation Sans", sans-serif'>80</text>
<line x1="92.40" y1="396.90" x2="92.40" y2="399.50" stroke="#111" stroke-width="0.9"/>
<text x="92.40" y="406.80" font-size="4.0" fill="#222" stroke="#222" stroke-width="0.04" text-anchor="middle" font-family='"Liberation Sans", sans-serif'>100</text>
<text x="90.80" y="349.10" font-size="4.0" fill="#222" stroke="#222" stroke-width="0.04" text-anchor="middle" font-family='"Liberation Sans", sans-serif'>100</text>
<text transform="translate(137.70,345.30) scale(0.94,1)" font-size="6.45" fill="#1a1a1a" text-anchor="middle" font-family='"Liberation Sans", sans-serif'>Heart</text>
<text x="105.40" y="353.10" font-size="3.8" fill="#222" stroke="#222" stroke-width="0.04" text-anchor="end" font-family='"Liberation Sans", sans-serif'>100</text>
<line x1="108.30" y1="351.80" x2="111.70" y2="351.80" stroke="#222" stroke-width="0.8"/>
<text x="105.40" y="357.42" font-size="3.8" fill="#222" stroke="#222" stroke-width="0.04" text-anchor="end" font-family='"Liberation Sans", sans-serif'>90</text>
<line x1="108.30" y1="356.12" x2="111.70" y2="356.12" stroke="#222" stroke-width="0.8"/>
<text x="105.40" y="361.74" font-size="3.8" fill="#222" stroke="#222" stroke-width="0.04" text-anchor="end" font-family='"Liberation Sans", sans-serif'>80</text>
<line x1="108.30" y1="360.44" x2="111.70" y2="360.44" stroke="#222" stroke-width="0.8"/>
<text x="105.40" y="366.06" font-size="3.8" fill="#222" stroke="#222" stroke-width="0.04" text-anchor="end" font-family='"Liberation Sans", sans-serif'>70</text>
<line x1="108.30" y1="364.76" x2="111.70" y2="364.76" stroke="#222" stroke-width="0.8"/>
<text x="105.40" y="370.38" font-size="3.8" fill="#222" stroke="#222" stroke-width="0.04" text-anchor="end" font-family='"Liberation Sans", sans-serif'>60</text>
<line x1="108.30" y1="369.08" x2="111.70" y2="369.08" stroke="#222" stroke-width="0.8"/>
<text x="105.40" y="374.70" font-size="3.8" fill="#222" stroke="#222" stroke-width="0.04" text-anchor="end" font-family='"Liberation Sans", sans-serif'>50</text>
<line x1="108.30" y1="373.40" x2="111.70" y2="373.40" stroke="#222" stroke-width="0.8"/>
<text x="105.40" y="379.02" font-size="3.8" fill="#222" stroke="#222" stroke-width="0.04" text-anchor="end" font-family='"Liberation Sans", sans-serif'>40</text>
<line x1="108.30" y1="377.72" x2="111.70" y2="377.72" stroke="#222" stroke-width="0.8"/>
<text x="105.40" y="383.34" font-size="3.8" fill="#222" stroke="#222" stroke-width="0.04" text-anchor="end" font-family='"Liberation Sans", sans-serif'>30</text>
<line x1="108.30" y1="382.04" x2="111.70" y2="382.04" stroke="#222" stroke-width="0.8"/>
<text x="105.40" y="387.66" font-size="3.8" fill="#222" stroke="#222" stroke-width="0.04" text-anchor="end" font-family='"Liberation Sans", sans-serif'>20</text>
<line x1="108.30" y1="386.36" x2="111.70" y2="386.36" stroke="#222" stroke-width="0.8"/>
<text x="105.40" y="391.98" font-size="3.8" fill="#222" stroke="#222" stroke-width="0.04" text-anchor="end" font-family='"Liberation Sans", sans-serif'>10</text>
<line x1="108.30" y1="390.68" x2="111.70" y2="390.68" stroke="#222" stroke-width="0.8"/>
<text x="105.40" y="396.30" font-size="3.8" fill="#222" stroke="#222" stroke-width="0.04" text-anchor="end" font-family='"Liberation Sans", sans-serif'>0</text>
<line x1="108.30" y1="395.00" x2="111.70" y2="395.00" stroke="#222" stroke-width="0.8"/>
<rect x="114.00" y="352.40" width="4.7" height="42.30" fill="#e8b618" stroke="#f0cc60" stroke-width="0.4"/>
<rect x="112.20" y="394.10" width="52.2" height="2.6" fill="#9a9a9a"/>
<line x1="111.70" y1="396.90" x2="164.40" y2="396.90" stroke="#333" stroke-width="0.9"/>
<line x1="111.70" y1="351.00" x2="111.70" y2="397.30" stroke="#111" stroke-width="1.2"/>
<line x1="112.70" y1="396.90" x2="112.70" y2="399.50" stroke="#111" stroke-width="0.9"/>
<text x="112.70" y="406.80" font-size="4.0" fill="#222" stroke="#222" stroke-width="0.04" text-anchor="middle" font-family='"Liberation Sans", sans-serif'>0</text>
<line x1="122.60" y1="396.90" x2="122.60" y2="399.50" stroke="#111" stroke-width="0.9"/>
<text x="122.60" y="406.80" font-size="4.0" fill="#222" stroke="#222" stroke-width="0.04" text-anchor="middle" font-family='"Liberation Sans", sans-serif'>20</text>
<line x1="132.50" y1="396.90" x2="132.50" y2="399.50" stroke="#111" stroke-width="0.9"/>
<text x="132.50" y="406.80" font-size="4.0" fill="#222" stroke="#222" stroke-width="0.04" text-anchor="middle" font-family='"Liberation Sans", sans-serif'>40</text>
<line x1="142.40" y1="396.90" x2="142.40" y2="399.50" stroke="#111" stroke-width="0.9"/>
<text x="142.40" y="406.80" font-size="4.0" fill="#222" stroke="#222" stroke-width="0.04" text-anchor="middle" font-family='"Liberation Sans", sans-serif'>60</text>
<line x1="152.30" y1="396.90" x2="152.30" y2="399.50" stroke="#111" stroke-width="0.9"/>
<text x="152.30" y="406.80" font-size="4.0" fill="#222" stroke="#222" stroke-width="0.04" text-anchor="middle" font-family='"Liberation Sans", sans-serif'>80</text>
<line x1="162.20" y1="396.90" x2="162.20" y2="399.50" stroke="#111" stroke-width="0.9"/>
<text x="162.20" y="406.80" font-size="4.0" fill="#222" stroke="#222" stroke-width="0.04" text-anchor="middle" font-family='"Liberation Sans", sans-serif'>100</text>
<text transform="translate(207.50,345.30) scale(0.94,1)" font-size="6.45" fill="#1a1a1a" text-anchor="middle" font-family='"Liberation Sans", sans-serif'>Intestine</text>
<text x="175.20" y="353.10" font-size="3.8" fill="#222" stroke="#222" stroke-width="0.04" text-anchor="end" font-family='"Liberation Sans", sans-serif'>100</text>
<line x1="178.10" y1="351.80" x2="181.50" y2="351.80" stroke="#222" stroke-width="0.8"/>
<text x="175.20" y="357.42" font-size="3.8" fill="#222" stroke="#222" stroke-width="0.04" text-anchor="end" font-family='"Liberation Sans", sans-serif'>90</text>
<line x1="178.10" y1="356.12" x2="181.50" y2="356.12" stroke="#222" stroke-width="0.8"/>
<text x="175.20" y="361.74" font-size="3.8" fill="#222" stroke="#222" stroke-width="0.04" text-anchor="end" font-family='"Liberation Sans", sans-serif'>80</text>
<line x1="178.10" y1="360.44" x2="181.50" y2="360.44" stroke="#222" stroke-width="0.8"/>
<text x="175.20" y="366.06" font-size="3.8" fill="#222" stroke="#222" stroke-width="0.04" text-anchor="end" font-family='"Liberation Sans", sans-serif'>70</text>
<line x1="178.10" y1="364.76" x2="181.50" y2="364.76" stroke="#222" stroke-width="0.8"/>
<text x="175.20" y="370.38" font-size="3.8" fill="#222" stroke="#222" stroke-width="0.04" text-anchor="end" font-family='"Liberation Sans", sans-serif'>60</text>
<line x1="178.10" y1="369.08" x2="181.50" y2="369.08" stroke="#222" stroke-width="0.8"/>
<text x="175.20" y="374.70" font-size="3.8" fill="#222" stroke="#222" stroke-width="0.04" text-anchor="end" font-family='"Liberation Sans", sans-serif'>50</text>
<line x1="178.10" y1="373.40" x2="181.50" y2="373.40" stroke="#222" stroke-width="0.8"/>
<text x="175.20" y="379.02" font-size="3.8" fill="#222" stroke="#222" stroke-width="0.04" text-anchor="end" font-family='"Liberation Sans", sans-serif'>40</text>
<line x1="178.10" y1="377.72" x2="181.50" y2="377.72" stroke="#222" stroke-width="0.8"/>
<text x="175.20" y="383.34" font-size="3.8" fill="#222" stroke="#222" stroke-width="0.04" text-anchor="end" font-family='"Liberation Sans", sans-serif'>30</text>
<line x1="178.10" y1="382.04" x2="181.50" y2="382.04" stroke="#222" stroke-width="0.8"/>
<text x="175.20" y="387.66" font-size="3.8" fill="#222" stroke="#222" stroke-width="0.04" text-anchor="end" font-family='"Liberation Sans", sans-serif'>20</text>
<line x1="178.10" y1="386.36" x2="181.50" y2="386.36" stroke="#222" stroke-width="0.8"/>
<text x="175.20" y="391.98" font-size="3.8" fill="#222" stroke="#222" stroke-width="0.04" text-anchor="end" font-family='"Liberation Sans", sans-serif'>10</text>
<line x1="178.10" y1="390.68" x2="181.50" y2="390.68" stroke="#222" stroke-width="0.8"/>
<text x="175.20" y="396.30" font-size="3.8" fill="#222" stroke="#222" stroke-width="0.04" text-anchor="end" font-family='"Liberation Sans", sans-serif'>0</text>
<line x1="178.10" y1="395.00" x2="181.50" y2="395.00" stroke="#222" stroke-width="0.8"/>
<rect x="183.80" y="352.40" width="4.7" height="42.30" fill="#e8b618" stroke="#f0cc60" stroke-width="0.4"/>
<rect x="182.00" y="394.10" width="52.2" height="2.6" fill="#9a9a9a"/>
<line x1="181.50" y1="396.90" x2="234.20" y2="396.90" stroke="#333" stroke-width="0.9"/>
<line x1="181.50" y1="351.00" x2="181.50" y2="397.30" stroke="#111" stroke-width="1.2"/>
<line x1="182.50" y1="396.90" x2="182.50" y2="399.50" stroke="#111" stroke-width="0.9"/>
<text x="182.50" y="406.80" font-size="4.0" fill="#222" stroke="#222" stroke-width="0.04" text-anchor="middle" font-family='"Liberation Sans", sans-serif'>0</text>
<line x1="192.40" y1="396.90" x2="192.40" y2="399.50" stroke="#111" stroke-width="0.9"/>
<text x="192.40" y="406.80" font-size="4.0" fill="#222" stroke="#222" stroke-width="0.04" text-anchor="middle" font-family='"Liberation Sans", sans-serif'>20</text>
<line x1="202.30" y1="396.90" x2="202.30" y2="399.50" stroke="#111" stroke-width="0.9"/>
<text x="202.30" y="406.80" font-size="4.0" fill="#222" stroke="#222" stroke-width="0.04" text-anchor="middle" font-family='"Liberation Sans", sans-serif'>40</text>
<line x1="212.20" y1="396.90" x2="212.20" y2="399.50" stroke="#111" stroke-width="0.9"/>
<text x="212.20" y="406.80" font-size="4.0" fill="#222" stroke="#222" stroke-width="0.04" text-anchor="middle" font-family='"Liberation Sans", sans-serif'>60</text>
<line x1="222.10" y1="396.90" x2="222.10" y2="399.50" stroke="#111" stroke-width="0.9"/>
<text x="222.10" y="406.80" font-size="4.0" fill="#222" stroke="#222" stroke-width="0.04" text-anchor="middle" font-family='"Liberation Sans", sans-serif'>80</text>
<line x1="232.00" y1="396.90" x2="232.00" y2="399.50" stroke="#111" stroke-width="0.9"/>
<text x="232.00" y="406.80" font-size="4.0" fill="#222" stroke="#222" stroke-width="0.04" text-anchor="middle" font-family='"Liberation Sans", sans-serif'>100</text>
<text transform="translate(276.70,345.30) scale(0.94,1)" font-size="6.45" fill="#1a1a1a" text-anchor="middle" font-family='"Liberation Sans", sans-serif'>Liver</text>
<text x="244.40" y="353.10" font-size="3.8" fill="#222" stroke="#222" stroke-width="0.04" text-anchor="end" font-family='"Liberation Sans", sans-serif'>100</text>
<line x1="247.30" y1="351.80" x2="250.70" y2="351.80" stroke="#222" stroke-width="0.8"/>
<text x="244.40" y="357.42" font-size="3.8" fill="#222" stroke="#222" stroke-width="0.04" text-anchor="end" font-family='"Liberation Sans", sans-serif'>90</text>
<line x1="247.30" y1="356.12" x2="250.70" y2="356.12" stroke="#222" stroke-width="0.8"/>
<text x="244.40" y="361.74" font-size="3.8" fill="#222" stroke="#222" stroke-width="0.04" text-anchor="end" font-family='"Liberation Sans", sans-serif'>80</text>
<line x1="247.30" y1="360.44" x2="250.70" y2="360.44" stroke="#222" stroke-width="0.8"/>
<text x="244.40" y="366.06" font-size="3.8" fill="#222" stroke="#222" stroke-width="0.04" text-anchor="end" font-family='"Liberation Sans", sans-serif'>70</text>
<line x1="247.30" y1="364.76" x2="250.70" y2="364.76" stroke="#222" stroke-width="0.8"/>
<text x="244.40" y="370.38" font-size="3.8" fill="#222" stroke="#222" stroke-width="0.04" text-anchor="end" font-family='"Liberation Sans", sans-serif'>60</text>
<line x1="247.30" y1="369.08" x2="250.70" y2="369.08" stroke="#222" stroke-width="0.8"/>
<text x="244.40" y="374.70" font-size="3.8" fill="#222" stroke="#222" stroke-width="0.04" text-anchor="end" font-family='"Liberation Sans", sans-serif'>50</text>
<line x1="247.30" y1="373.40" x2="250.70" y2="373.40" stroke="#222" stroke-width="0.8"/>
<text x="244.40" y="379.02" font-size="3.8" fill="#222" stroke="#222" stroke-width="0.04" text-anchor="end" font-family='"Liberation Sans", sans-serif'>40</text>
<line x1="247.30" y1="377.72" x2="250.70" y2="377.72" stroke="#222" stroke-width="0.8"/>
<text x="244.40" y="383.34" font-size="3.8" fill="#222" stroke="#222" stroke-width="0.04" text-anchor="end" font-family='"Liberation Sans", sans-serif'>30</text>
<line x1="247.30" y1="382.04" x2="250.70" y2="382.04" stroke="#222" stroke-width="0.8"/>
<text x="244.40" y="387.66" font-size="3.8" fill="#222" stroke="#222" stroke-width="0.04" text-anchor="end" font-family='"Liberation Sans", sans-serif'>20</text>
<line x1="247.30" y1="386.36" x2="250.70" y2="386.36" stroke="#222" stroke-width="0.8"/>
<text x="244.40" y="391.98" font-size="3.8" fill="#222" stroke="#222" stroke-width="0.04" text-anchor="end" font-family='"Liberation Sans", sans-serif'>10</text>
<line x1="247.30" y1="390.68" x2="250.70" y2="390.68" stroke="#222" stroke-width="0.8"/>
<text x="244.40" y="396.30" font-size="3.8" fill="#222" stroke="#222" stroke-width="0.04" text-anchor="end" font-family='"Liberation Sans", sans-serif'>0</text>
<line x1="247.30" y1="395.00" x2="250.70" y2="395.00" stroke="#222" stroke-width="0.8"/>
<rect x="253.00" y="352.40" width="4.7" height="42.30" fill="#e8b618" stroke="#f0cc60" stroke-width="0.4"/>
<rect x="251.20" y="394.10" width="52.2" height="2.6" fill="#9a9a9a"/>
<line x1="250.70" y1="396.90" x2="303.40" y2="396.90" stroke="#333" stroke-width="0.9"/>
<line x1="250.70" y1="351.00" x2="250.70" y2="397.30" stroke="#111" stroke-width="1.2"/>
<line x1="251.70" y1="396.90" x2="251.70" y2="399.50" stroke="#111" stroke-width="0.9"/>
<text x="251.70" y="406.80" font-size="4.0" fill="#222" stroke="#222" stroke-width="0.04" text-anchor="middle" font-family='"Liberation Sans", sans-serif'>0</text>
<line x1="261.60" y1="396.90" x2="261.60" y2="399.50" stroke="#111" stroke-width="0.9"/>
<text x="261.60" y="406.80" font-size="4.0" fill="#222" stroke="#222" stroke-width="0.04" text-anchor="middle" font-family='"Liberation Sans", sans-serif'>20</text>
<line x1="271.50" y1="396.90" x2="271.50" y2="399.50" stroke="#111" stroke-width="0.9"/>
<text x="271.50" y="406.80" font-size="4.0" fill="#222" stroke="#222" stroke-width="0.04" text-anchor="middle" font-family='"Liberation Sans", sans-serif'>40</text>
<line x1="281.40" y1="396.90" x2="281.40" y2="399.50" stroke="#111" stroke-width="0.9"/>
<text x="281.40" y="406.80" font-size="4.0" fill="#222" stroke="#222" stroke-width="0.04" text-anchor="middle" font-family='"Liberation Sans", sans-serif'>60</text>
<line x1="291.30" y1="396.90" x2="291.30" y2="399.50" stroke="#111" stroke-width="0.9"/>
<text x="291.30" y="406.80" font-size="4.0" fill="#222" stroke="#222" stroke-width="0.04" text-anchor="middle" font-family='"Liberation Sans", sans-serif'>80</text>
<line x1="301.20" y1="396.90" x2="301.20" y2="399.50" stroke="#111" stroke-width="0.9"/>
<text x="301.20" y="406.80" font-size="4.0" fill="#222" stroke="#222" stroke-width="0.04" text-anchor="middle" font-family='"Liberation Sans", sans-serif'>100</text>
<text transform="translate(345.80,345.30) scale(0.94,1)" font-size="6.45" fill="#1a1a1a" text-anchor="middle" font-family='"Liberation Sans", sans-serif'>Spleen</text>
<text x="313.50" y="353.10" font-size="3.8" fill="#222" stroke="#222" stroke-width="0.04" text-anchor="end" font-family='"Liberation Sans", sans-serif'>100</text>
<line x1="316.40" y1="351.80" x2="319.80" y2="351.80" stroke="#222" stroke-width="0.8"/>
<text x="313.50" y="357.42" font-size="3.8" fill="#222" stroke="#222" stroke-width="0.04" text-anchor="end" font-family='"Liberation Sans", sans-serif'>90</text>
<line x1="316.40" y1="356.12" x2="319.80" y2="356.12" stroke="#222" stroke-width="0.8"/>
<text x="313.50" y="361.74" font-size="3.8" fill="#222" stroke="#222" stroke-width="0.04" text-anchor="end" font-family='"Liberation Sans", sans-serif'>80</text>
<line x1="316.40" y1="360.44" x2="319.80" y2="360.44" stroke="#222" stroke-width="0.8"/>
<text x="313.50" y="366.06" font-size="3.8" fill="#222" stroke="#222" stroke-width="0.04" text-anchor="end" font-family='"Liberation Sans", sans-serif'>70</text>
<line x1="316.40" y1="364.76" x2="319.80" y2="364.76" stroke="#222" stroke-width="0.8"/>
<text x="313.50" y="370.38" font-size="3.8" fill="#222" stroke="#222" stroke-width="0.04" text-anchor="end" font-family='"Liberation Sans", sans-serif'>60</text>
<line x1="316.40" y1="369.08" x2="319.80" y2="369.08" stroke="#222" stroke-width="0.8"/>
<text x="313.50" y="374.70" font-size="3.8" fill="#222" stroke="#222" stroke-width="0.04" text-anchor="end" font-family='"Liberation Sans", sans-serif'>50</text>
<line x1="316.40" y1="373.40" x2="319.80" y2="373.40" stroke="#222" stroke-width="0.8"/>
<text x="313.50" y="379.02" font-size="3.8" fill="#222" stroke="#222" stroke-width="0.04" text-anchor="end" font-family='"Liberation Sans", sans-serif'>40</text>
<line x1="316.40" y1="377.72" x2="319.80" y2="377.72" stroke="#222" stroke-width="0.8"/>
<text x="313.50" y="383.34" font-size="3.8" fill="#222" stroke="#222" stroke-width="0.04" text-anchor="end" font-family='"Liberation Sans", sans-serif'>30</text>
<line x1="316.40" y1="382.04" x2="319.80" y2="382.04" stroke="#222" stroke-width="0.8"/>
<text x="313.50" y="387.66" font-size="3.8" fill="#222" stroke="#222" stroke-width="0.04" text-anchor="end" font-family='"Liberation Sans", sans-serif'>20</text>
<line x1="316.40" y1="386.36" x2="319.80" y2="386.36" stroke="#222" stroke-width="0.8"/>
<text x="313.50" y="391.98" font-size="3.8" fill="#222" stroke="#222" stroke-width="0.04" text-anchor="end" font-family='"Liberation Sans", sans-serif'>10</text>
<line x1="316.40" y1="390.68" x2="319.80" y2="390.68" stroke="#222" stroke-width="0.8"/>
<text x="313.50" y="396.30" font-size="3.8" fill="#222" stroke="#222" stroke-width="0.04" text-anchor="end" font-family='"Liberation Sans", sans-serif'>0</text>
<line x1="316.40" y1="395.00" x2="319.80" y2="395.00" stroke="#222" stroke-width="0.8"/>
<rect x="322.10" y="352.40" width="4.7" height="42.30" fill="#e8b618" stroke="#f0cc60" stroke-width="0.4"/>
<rect x="320.30" y="394.10" width="52.2" height="2.6" fill="#9a9a9a"/>
<line x1="319.80" y1="396.90" x2="372.50" y2="396.90" stroke="#333" stroke-width="0.9"/>
<line x1="319.80" y1="351.00" x2="319.80" y2="397.30" stroke="#111" stroke-width="1.2"/>
<line x1="320.80" y1="396.90" x2="320.80" y2="399.50" stroke="#111" stroke-width="0.9"/>
<text x="320.80" y="406.80" font-size="4.0" fill="#222" stroke="#222" stroke-width="0.04" text-anchor="middle" font-family='"Liberation Sans", sans-serif'>0</text>
<line x1="330.70" y1="396.90" x2="330.70" y2="399.50" stroke="#111" stroke-width="0.9"/>
<text x="330.70" y="406.80" font-size="4.0" fill="#222" stroke="#222" stroke-width="0.04" text-anchor="middle" font-family='"Liberation Sans", sans-serif'>20</text>
<line x1="340.60" y1="396.90" x2="340.60" y2="399.50" stroke="#111" stroke-width="0.9"/>
<text x="340.60" y="406.80" font-size="4.0" fill="#222" stroke="#222" stroke-width="0.04" text-anchor="middle" font-family='"Liberation Sans", sans-serif'>40</text>
<line x1="350.50" y1="396.90" x2="350.50" y2="399.50" stroke="#111" stroke-width="0.9"/>
<text x="350.50" y="406.80" font-size="4.0" fill="#222" stroke="#222" stroke-width="0.04" text-anchor="middle" font-family='"Liberation Sans", sans-serif'>60</text>
<line x1="360.40" y1="396.90" x2="360.40" y2="399.50" stroke="#111" stroke-width="0.9"/>
<text x="360.40" y="406.80" font-size="4.0" fill="#222" stroke="#222" stroke-width="0.04" text-anchor="middle" font-family='"Liberation Sans", sans-serif'>80</text>
<line x1="370.30" y1="396.90" x2="370.30" y2="399.50" stroke="#111" stroke-width="0.9"/>
<text x="370.30" y="406.80" font-size="4.0" fill="#222" stroke="#222" stroke-width="0.04" text-anchor="middle" font-family='"Liberation Sans", sans-serif'>100</text>
<text transform="translate(415.80,345.30) scale(0.94,1)" font-size="6.45" fill="#1a1a1a" text-anchor="middle" font-family='"Liberation Sans", sans-serif'>Thymus</text>
<text x="383.50" y="353.10" font-size="3.8" fill="#222" stroke="#222" stroke-width="0.04" text-anchor="end" font-family='"Liberation Sans", sans-serif'>100</text>
<line x1="386.40" y1="351.80" x2="389.80" y2="351.80" stroke="#222" stroke-width="0.8"/>
<text x="383.50" y="357.42" font-size="3.8" fill="#222" stroke="#222" stroke-width="0.04" text-anchor="end" font-family='"Liberation Sans", sans-serif'>90</text>
<line x1="386.40" y1="356.12" x2="389.80" y2="356.12" stroke="#222" stroke-width="0.8"/>
<text x="383.50" y="361.74" font-size="3.8" fill="#222" stroke="#222" stroke-width="0.04" text-anchor="end" font-family='"Liberation Sans", sans-serif'>80</text>
<line x1="386.40" y1="360.44" x2="389.80" y2="360.44" stroke="#222" stroke-width="0.8"/>
<text x="383.50" y="366.06" font-size="3.8" fill="#222" stroke="#222" stroke-width="0.04" text-anchor="end" font-family='"Liberation Sans", sans-serif'>70</text>
<line x1="386.40" y1="364.76" x2="389.80" y2="364.76" stroke="#222" stroke-width="0.8"/>
<text x="383.50" y="370.38" font-size="3.8" fill="#222" stroke="#222" stroke-width="0.04" text-anchor="end" font-family='"Liberation Sans", sans-serif'>60</text>
<line x1="386.40" y1="369.08" x2="389.80" y2="369.08" stroke="#222" stroke-width="0.8"/>
<text x="383.50" y="374.70" font-size="3.8" fill="#222" stroke="#222" stroke-width="0.04" text-anchor="end" font-family='"Liberation Sans", sans-serif'>50</text>
<line x1="386.40" y1="373.40" x2="389.80" y2="373.40" stroke="#222" stroke-width="0.8"/>
<text x="383.50" y="379.02" font-size="3.8" fill="#222" stroke="#222" stroke-width="0.04" text-anchor="end" font-family='"Liberation Sans", sans-serif'>40</text>
<line x1="386.40" y1="377.72" x2="389.80" y2="377.72" stroke="#222" stroke-width="0.8"/>
<text x="383.50" y="383.34" font-size="3.8" fill="#222" stroke="#222" stroke-width="0.04" text-anchor="end" font-family='"Liberation Sans", sans-serif'>30</text>
<line x1="386.40" y1="382.04" x2="389.80" y2="382.04" stroke="#222" stroke-width="0.8"/>
<text x="383.50" y="387.66" font-size="3.8" fill="#222" stroke="#222" stroke-width="0.04" text-anchor="end" font-family='"Liberation Sans", sans-serif'>20</text>
<line x1="386.40" y1="386.36" x2="389.80" y2="386.36" stroke="#222" stroke-width="0.8"/>
<text x="383.50" y="391.98" font-size="3.8" fill="#222" stroke="#222" stroke-width="0.04" text-anchor="end" font-family='"Liberation Sans", sans-serif'>10</text>
<line x1="386.40" y1="390.68" x2="389.80" y2="390.68" stroke="#222" stroke-width="0.8"/>
<text x="383.50" y="396.30" font-size="3.8" fill="#222" stroke="#222" stroke-width="0.04" text-anchor="end" font-family='"Liberation Sans", sans-serif'>0</text>
<line x1="386.40" y1="395.00" x2="389.80" y2="395.00" stroke="#222" stroke-width="0.8"/>
<rect x="392.10" y="352.40" width="4.7" height="42.30" fill="#e8b618" stroke="#f0cc60" stroke-width="0.4"/>
<rect x="390.30" y="394.10" width="52.2" height="2.6" fill="#9a9a9a"/>
<line x1="389.80" y1="396.90" x2="442.50" y2="396.90" stroke="#333" stroke-width="0.9"/>
<line x1="389.80" y1="351.00" x2="389.80" y2="397.30" stroke="#111" stroke-width="1.2"/>
<line x1="390.80" y1="396.90" x2="390.80" y2="399.50" stroke="#111" stroke-width="0.9"/>
<text x="390.80" y="406.80" font-size="4.0" fill="#222" stroke="#222" stroke-width="0.04" text-anchor="middle" font-family='"Liberation Sans", sans-serif'>0</text>
<line x1="400.70" y1="396.90" x2="400.70" y2="399.50" stroke="#111" stroke-width="0.9"/>
<text x="400.70" y="406.80" font-size="4.0" fill="#222" stroke="#222" stroke-width="0.04" text-anchor="middle" font-family='"Liberation Sans", sans-serif'>20</text>
<line x1="410.60" y1="396.90" x2="410.60" y2="399.50" stroke="#111" stroke-width="0.9"/>
<text x="410.60" y="406.80" font-size="4.0" fill="#222" stroke="#222" stroke-width="0.04" text-anchor="middle" font-family='"Liberation Sans", sans-serif'>40</text>
<line x1="420.50" y1="396.90" x2="420.50" y2="399.50" stroke="#111" stroke-width="0.9"/>
<text x="420.50" y="406.80" font-size="4.0" fill="#222" stroke="#222" stroke-width="0.04" text-anchor="middle" font-family='"Liberation Sans", sans-serif'>60</text>
<line x1="430.40" y1="396.90" x2="430.40" y2="399.50" stroke="#111" stroke-width="0.9"/>
<text x="430.40" y="406.80" font-size="4.0" fill="#222" stroke="#222" stroke-width="0.04" text-anchor="middle" font-family='"Liberation Sans", sans-serif'>80</text>
<line x1="440.30" y1="396.90" x2="440.30" y2="399.50" stroke="#111" stroke-width="0.9"/>
<text x="440.30" y="406.80" font-size="4.0" fill="#222" stroke="#222" stroke-width="0.04" text-anchor="middle" font-family='"Liberation Sans", sans-serif'>100</text>
<text transform="translate(485.80,345.30) scale(0.94,1)" font-size="6.45" fill="#1a1a1a" text-anchor="middle" font-family='"Liberation Sans", sans-serif'>Bone marrow</text>
<text x="453.50" y="353.10" font-size="3.8" fill="#222" stroke="#222" stroke-width="0.04" text-anchor="end" font-family='"Liberation Sans", sans-serif'>100</text>
<line x1="456.40" y1="351.80" x2="459.80" y2="351.80" stroke="#222" stroke-width="0.8"/>
<text x="453.50" y="357.42" font-size="3.8" fill="#222" stroke="#222" stroke-width="0.04" text-anchor="end" font-family='"Liberation Sans", sans-serif'>90</text>
<line x1="456.40" y1="356.12" x2="459.80" y2="356.12" stroke="#222" stroke-width="0.8"/>
<text x="453.50" y="361.74" font-size="3.8" fill="#222" stroke="#222" stroke-width="0.04" text-anchor="end" font-family='"Liberation Sans", sans-serif'>80</text>
<line x1="456.40" y1="360.44" x2="459.80" y2="360.44" stroke="#222" stroke-width="0.8"/>
<text x="453.50" y="366.06" font-size="3.8" fill="#222" stroke="#222" stroke-width="0.04" text-anchor="end" font-family='"Liberation Sans", sans-serif'>70</text>
<line x1="456.40" y1="364.76" x2="459.80" y2="364.76" stroke="#222" stroke-width="0.8"/>
<text x="453.50" y="370.38" font-size="3.8" fill="#222" stroke="#222" stroke-width="0.04" text-anchor="end" font-family='"Liberation Sans", sans-serif'>60</text>
<line x1="456.40" y1="369.08" x2="459.80" y2="369.08" stroke="#222" stroke-width="0.8"/>
<text x="453.50" y="374.70" font-size="3.8" fill="#222" stroke="#222" stroke-width="0.04" text-anchor="end" font-family='"Liberation Sans", sans-serif'>50</text>
<line x1="456.40" y1="373.40" x2="459.80" y2="373.40" stroke="#222" stroke-width="0.8"/>
<text x="453.50" y="379.02" font-size="3.8" fill="#222" stroke="#222" stroke-width="0.04" text-anchor="end" font-family='"Liberation Sans", sans-serif'>40</text>
<line x1="456.40" y1="377.72" x2="459.80" y2="377.72" stroke="#222" stroke-width="0.8"/>
<text x="453.50" y="383.34" font-size="3.8" fill="#222" stroke="#222" stroke-width="0.04" text-anchor="end" font-family='"Liberation Sans", sans-serif'>30</text>
<line x1="456.40" y1="382.04" x2="459.80" y2="382.04" stroke="#222" stroke-width="0.8"/>
<text x="453.50" y="387.66" font-size="3.8" fill="#222" stroke="#222" stroke-width="0.04" text-anchor="end" font-family='"Liberation Sans", sans-serif'>20</text>
<line x1="456.40" y1="386.36" x2="459.80" y2="386.36" stroke="#222" stroke-width="0.8"/>
<text x="453.50" y="391.98" font-size="3.8" fill="#222" stroke="#222" stroke-width="0.04" text-anchor="end" font-family='"Liberation Sans", sans-serif'>10</text>
<line x1="456.40" y1="390.68" x2="459.80" y2="390.68" stroke="#222" stroke-width="0.8"/>
<text x="453.50" y="396.30" font-size="3.8" fill="#222" stroke="#222" stroke-width="0.04" text-anchor="end" font-family='"Liberation Sans", sans-serif'>0</text>
<line x1="456.40" y1="395.00" x2="459.80" y2="395.00" stroke="#222" stroke-width="0.8"/>
<rect x="462.10" y="352.40" width="4.7" height="42.30" fill="#e8b618" stroke="#f0cc60" stroke-width="0.4"/>
<rect x="460.30" y="394.10" width="52.2" height="2.6" fill="#9a9a9a"/>
<line x1="459.80" y1="396.90" x2="512.50" y2="396.90" stroke="#333" stroke-width="0.9"/>
<line x1="459.80" y1="351.00" x2="459.80" y2="397.30" stroke="#111" stroke-width="1.2"/>
<line x1="460.80" y1="396.90" x2="460.80" y2="399.50" stroke="#111" stroke-width="0.9"/>
<text x="460.80" y="406.80" font-size="4.0" fill="#222" stroke="#222" stroke-width="0.04" text-anchor="middle" font-family='"Liberation Sans", sans-serif'>0</text>
<line x1="470.70" y1="396.90" x2="470.70" y2="399.50" stroke="#111" stroke-width="0.9"/>
<text x="470.70" y="406.80" font-size="4.0" fill="#222" stroke="#222" stroke-width="0.04" text-anchor="middle" font-family='"Liberation Sans", sans-serif'>20</text>
<line x1="480.60" y1="396.90" x2="480.60" y2="399.50" stroke="#111" stroke-width="0.9"/>
<text x="480.60" y="406.80" font-size="4.0" fill="#222" stroke="#222" stroke-width="0.04" text-anchor="middle" font-family='"Liberation Sans", sans-serif'>40</text>
<line x1="490.50" y1="396.90" x2="490.50" y2="399.50" stroke="#111" stroke-width="0.9"/>
<text x="490.50" y="406.80" font-size="4.0" fill="#222" stroke="#222" stroke-width="0.04" text-anchor="middle" font-family='"Liberation Sans", sans-serif'>60</text>
<line x1="500.40" y1="396.90" x2="500.40" y2="399.50" stroke="#111" stroke-width="0.9"/>
<text x="500.40" y="406.80" font-size="4.0" fill="#222" stroke="#222" stroke-width="0.04" text-anchor="middle" font-family='"Liberation Sans", sans-serif'>80</text>
<line x1="510.30" y1="396.90" x2="510.30" y2="399.50" stroke="#111" stroke-width="0.9"/>
<text x="510.30" y="406.80" font-size="4.0" fill="#222" stroke="#222" stroke-width="0.04" text-anchor="middle" font-family='"Liberation Sans", sans-serif'>100</text>
<text transform="translate(67.80,433.40) scale(0.94,1)" font-size="6.45" fill="#1a1a1a" text-anchor="middle" font-family='"Liberation Sans", sans-serif'>Brain</text>
<text x="35.50" y="440.70" font-size="3.8" fill="#222" stroke="#222" stroke-width="0.04" text-anchor="end" font-family='"Liberation Sans", sans-serif'>100</text>
<line x1="38.40" y1="439.40" x2="41.80" y2="439.40" stroke="#222" stroke-width="0.8"/>
<text x="35.50" y="445.07" font-size="3.8" fill="#222" stroke="#222" stroke-width="0.04" text-anchor="end" font-family='"Liberation Sans", sans-serif'>90</text>
<line x1="38.40" y1="443.77" x2="41.80" y2="443.77" stroke="#222" stroke-width="0.8"/>
<text x="35.50" y="449.44" font-size="3.8" fill="#222" stroke="#222" stroke-width="0.04" text-anchor="end" font-family='"Liberation Sans", sans-serif'>80</text>
<line x1="38.40" y1="448.14" x2="41.80" y2="448.14" stroke="#222" stroke-width="0.8"/>
<text x="35.50" y="453.81" font-size="3.8" fill="#222" stroke="#222" stroke-width="0.04" text-anchor="end" font-family='"Liberation Sans", sans-serif'>70</text>
<line x1="38.40" y1="452.51" x2="41.80" y2="452.51" stroke="#222" stroke-width="0.8"/>
<text x="35.50" y="458.18" font-size="3.8" fill="#222" stroke="#222" stroke-width="0.04" text-anchor="end" font-family='"Liberation Sans", sans-serif'>60</text>
<line x1="38.40" y1="456.88" x2="41.80" y2="456.88" stroke="#222" stroke-width="0.8"/>
<text x="35.50" y="462.55" font-size="3.8" fill="#222" stroke="#222" stroke-width="0.04" text-anchor="end" font-family='"Liberation Sans", sans-serif'>50</text>
<line x1="38.40" y1="461.25" x2="41.80" y2="461.25" stroke="#222" stroke-width="0.8"/>
<text x="35.50" y="466.92" font-size="3.8" fill="#222" stroke="#222" stroke-width="0.04" text-anchor="end" font-family='"Liberation Sans", sans-serif'>40</text>
<line x1="38.40" y1="465.62" x2="41.80" y2="465.62" stroke="#222" stroke-width="0.8"/>
<text x="35.50" y="471.29" font-size="3.8" fill="#222" stroke="#222" stroke-width="0.04" text-anchor="end" font-family='"Liberation Sans", sans-serif'>30</text>
<line x1="38.40" y1="469.99" x2="41.80" y2="469.99" stroke="#222" stroke-width="0.8"/>
<text x="35.50" y="475.66" font-size="3.8" fill="#222" stroke="#222" stroke-width="0.04" text-anchor="end" font-family='"Liberation Sans", sans-serif'>20</text>
<line x1="38.40" y1="474.36" x2="41.80" y2="474.36" stroke="#222" stroke-width="0.8"/>
<text x="35.50" y="480.03" font-size="3.8" fill="#222" stroke="#222" stroke-width="0.04" text-anchor="end" font-family='"Liberation Sans", sans-serif'>10</text>
<line x1="38.40" y1="478.73" x2="41.80" y2="478.73" stroke="#222" stroke-width="0.8"/>
<text x="35.50" y="484.40" font-size="3.8" fill="#222" stroke="#222" stroke-width="0.04" text-anchor="end" font-family='"Liberation Sans", sans-serif'>0</text>
<line x1="38.40" y1="483.10" x2="41.80" y2="483.10" stroke="#222" stroke-width="0.8"/>
<rect x="44.10" y="440.00" width="4.7" height="42.80" fill="#ae0e2e" stroke="#c84a60" stroke-width="0.4"/>
<rect x="42.30" y="482.20" width="52.2" height="2.6" fill="#9a9a9a"/>
<line x1="41.80" y1="485.00" x2="94.50" y2="485.00" stroke="#333" stroke-width="0.9"/>
<line x1="41.80" y1="438.60" x2="41.80" y2="485.40" stroke="#111" stroke-width="1.2"/>
<line x1="42.80" y1="485.00" x2="42.80" y2="487.60" stroke="#111" stroke-width="0.9"/>
<text x="42.80" y="494.90" font-size="4.0" fill="#222" stroke="#222" stroke-width="0.04" text-anchor="middle" font-family='"Liberation Sans", sans-serif'>0</text>
<line x1="52.70" y1="485.00" x2="52.70" y2="487.60" stroke="#111" stroke-width="0.9"/>
<text x="52.70" y="494.90" font-size="4.0" fill="#222" stroke="#222" stroke-width="0.04" text-anchor="middle" font-family='"Liberation Sans", sans-serif'>20</text>
<line x1="62.60" y1="485.00" x2="62.60" y2="487.60" stroke="#111" stroke-width="0.9"/>
<text x="62.60" y="494.90" font-size="4.0" fill="#222" stroke="#222" stroke-width="0.04" text-anchor="middle" font-family='"Liberation Sans", sans-serif'>40</text>
<line x1="72.50" y1="485.00" x2="72.50" y2="487.60" stroke="#111" stroke-width="0.9"/>
<text x="72.50" y="494.90" font-size="4.0" fill="#222" stroke="#222" stroke-width="0.04" text-anchor="middle" font-family='"Liberation Sans", sans-serif'>60</text>
<line x1="82.40" y1="485.00" x2="82.40" y2="487.60" stroke="#111" stroke-width="0.9"/>
<text x="82.40" y="494.90" font-size="4.0" fill="#222" stroke="#222" stroke-width="0.04" text-anchor="middle" font-family='"Liberation Sans", sans-serif'>80</text>
<line x1="92.30" y1="485.00" x2="92.30" y2="487.60" stroke="#111" stroke-width="0.9"/>
<text x="92.30" y="494.90" font-size="4.0" fill="#222" stroke="#222" stroke-width="0.04" text-anchor="middle" font-family='"Liberation Sans", sans-serif'>100</text>
<text transform="translate(137.50,433.40) scale(0.94,1)" font-size="6.45" fill="#1a1a1a" text-anchor="middle" font-family='"Liberation Sans", sans-serif'>Heart</text>
<text x="105.20" y="440.70" font-size="3.8" fill="#222" stroke="#222" stroke-width="0.04" text-anchor="end" font-family='"Liberation Sans", sans-serif'>100</text>
<line x1="108.10" y1="439.40" x2="111.50" y2="439.40" stroke="#222" stroke-width="0.8"/>
<text x="105.20" y="445.07" font-size="3.8" fill="#222" stroke="#222" stroke-width="0.04" text-anchor="end" font-family='"Liberation Sans", sans-serif'>90</text>
<line x1="108.10" y1="443.77" x2="111.50" y2="443.77" stroke="#222" stroke-width="0.8"/>
<text x="105.20" y="449.44" font-size="3.8" fill="#222" stroke="#222" stroke-width="0.04" text-anchor="end" font-family='"Liberation Sans", sans-serif'>80</text>
<line x1="108.10" y1="448.14" x2="111.50" y2="448.14" stroke="#222" stroke-width="0.8"/>
<text x="105.20" y="453.81" font-size="3.8" fill="#222" stroke="#222" stroke-width="0.04" text-anchor="end" font-family='"Liberation Sans", sans-serif'>70</text>
<line x1="108.10" y1="452.51" x2="111.50" y2="452.51" stroke="#222" stroke-width="0.8"/>
<text x="105.20" y="458.18" font-size="3.8" fill="#222" stroke="#222" stroke-width="0.04" text-anchor="end" font-family='"Liberation Sans", sans-serif'>60</text>
<line x1="108.10" y1="456.88" x2="111.50" y2="456.88" stroke="#222" stroke-width="0.8"/>
<text x="105.20" y="462.55" font-size="3.8" fill="#222" stroke="#222" stroke-width="0.04" text-anchor="end" font-family='"Liberation Sans", sans-serif'>50</text>
<line x1="108.10" y1="461.25" x2="111.50" y2="461.25" stroke="#222" stroke-width="0.8"/>
<text x="105.20" y="466.92" font-size="3.8" fill="#222" stroke="#222" stroke-width="0.04" text-anchor="end" font-family='"Liberation Sans", sans-serif'>40</text>
<line x1="108.10" y1="465.62" x2="111.50" y2="465.62" stroke="#222" stroke-width="0.8"/>
<text x="105.20" y="471.29" font-size="3.8" fill="#222" stroke="#222" stroke-width="0.04" text-anchor="end" font-family='"Liberation Sans", sans-serif'>30</text>
<line x1="108.10" y1="469.99" x2="111.50" y2="469.99" stroke="#222" stroke-width="0.8"/>
<text x="105.20" y="475.66" font-size="3.8" fill="#222" stroke="#222" stroke-width="0.04" text-anchor="end" font-family='"Liberation Sans", sans-serif'>20</text>
<line x1="108.10" y1="474.36" x2="111.50" y2="474.36" stroke="#222" stroke-width="0.8"/>
<text x="105.20" y="480.03" font-size="3.8" fill="#222" stroke="#222" stroke-width="0.04" text-anchor="end" font-family='"Liberation Sans", sans-serif'>10</text>
<line x1="108.10" y1="478.73" x2="111.50" y2="478.73" stroke="#222" stroke-width="0.8"/>
<text x="105.20" y="484.40" font-size="3.8" fill="#222" stroke="#222" stroke-width="0.04" text-anchor="end" font-family='"Liberation Sans", sans-serif'>0</text>
<line x1="108.10" y1="483.10" x2="111.50" y2="483.10" stroke="#222" stroke-width="0.8"/>
<rect x="113.80" y="440.00" width="4.7" height="42.80" fill="#ae0e2e" stroke="#c84a60" stroke-width="0.4"/>
<rect x="112.00" y="482.20" width="52.2" height="2.6" fill="#9a9a9a"/>
<line x1="111.50" y1="485.00" x2="164.20" y2="485.00" stroke="#333" stroke-width="0.9"/>
<line x1="111.50" y1="438.60" x2="111.50" y2="485.40" stroke="#111" stroke-width="1.2"/>
<line x1="112.50" y1="485.00" x2="112.50" y2="487.60" stroke="#111" stroke-width="0.9"/>
<text x="112.50" y="494.90" font-size="4.0" fill="#222" stroke="#222" stroke-width="0.04" text-anchor="middle" font-family='"Liberation Sans", sans-serif'>0</text>
<line x1="122.40" y1="485.00" x2="122.40" y2="487.60" stroke="#111" stroke-width="0.9"/>
<text x="122.40" y="494.90" font-size="4.0" fill="#222" stroke="#222" stroke-width="0.04" text-anchor="middle" font-family='"Liberation Sans", sans-serif'>20</text>
<line x1="132.30" y1="485.00" x2="132.30" y2="487.60" stroke="#111" stroke-width="0.9"/>
<text x="132.30" y="494.90" font-size="4.0" fill="#222" stroke="#222" stroke-width="0.04" text-anchor="middle" font-family='"Liberation Sans", sans-serif'>40</text>
<line x1="142.20" y1="485.00" x2="142.20" y2="487.60" stroke="#111" stroke-width="0.9"/>
<text x="142.20" y="494.90" font-size="4.0" fill="#222" stroke="#222" stroke-width="0.04" text-anchor="middle" font-family='"Liberation Sans", sans-serif'>60</text>
<line x1="152.10" y1="485.00" x2="152.10" y2="487.60" stroke="#111" stroke-width="0.9"/>
<text x="152.10" y="494.90" font-size="4.0" fill="#222" stroke="#222" stroke-width="0.04" text-anchor="middle" font-family='"Liberation Sans", sans-serif'>80</text>
<line x1="162.00" y1="485.00" x2="162.00" y2="487.60" stroke="#111" stroke-width="0.9"/>
<text x="162.00" y="494.90" font-size="4.0" fill="#222" stroke="#222" stroke-width="0.04" text-anchor="middle" font-family='"Liberation Sans", sans-serif'>100</text>
<text transform="translate(206.70,433.40) scale(0.94,1)" font-size="6.45" fill="#1a1a1a" text-anchor="middle" font-family='"Liberation Sans", sans-serif'>Intestine</text>
<text x="174.40" y="440.70" font-size="3.8" fill="#222" stroke="#222" stroke-width="0.04" text-anchor="end" font-family='"Liberation Sans", sans-serif'>100</text>
<line x1="177.30" y1="439.40" x2="180.70" y2="439.40" stroke="#222" stroke-width="0.8"/>
<text x="174.40" y="445.07" font-size="3.8" fill="#222" stroke="#222" stroke-width="0.04" text-anchor="end" font-family='"Liberation Sans", sans-serif'>90</text>
<line x1="177.30" y1="443.77" x2="180.70" y2="443.77" stroke="#222" stroke-width="0.8"/>
<text x="174.40" y="449.44" font-size="3.8" fill="#222" stroke="#222" stroke-width="0.04" text-anchor="end" font-family='"Liberation Sans", sans-serif'>80</text>
<line x1="177.30" y1="448.14" x2="180.70" y2="448.14" stroke="#222" stroke-width="0.8"/>
<text x="174.40" y="453.81" font-size="3.8" fill="#222" stroke="#222" stroke-width="0.04" text-anchor="end" font-family='"Liberation Sans", sans-serif'>70</text>
<line x1="177.30" y1="452.51" x2="180.70" y2="452.51" stroke="#222" stroke-width="0.8"/>
<text x="174.40" y="458.18" font-size="3.8" fill="#222" stroke="#222" stroke-width="0.04" text-anchor="end" font-family='"Liberation Sans", sans-serif'>60</text>
<line x1="177.30" y1="456.88" x2="180.70" y2="456.88" stroke="#222" stroke-width="0.8"/>
<text x="174.40" y="462.55" font-size="3.8" fill="#222" stroke="#222" stroke-width="0.04" text-anchor="end" font-family='"Liberation Sans", sans-serif'>50</text>
<line x1="177.30" y1="461.25" x2="180.70" y2="461.25" stroke="#222" stroke-width="0.8"/>
<text x="174.40" y="466.92" font-size="3.8" fill="#222" stroke="#222" stroke-width="0.04" text-anchor="end" font-family='"Liberation Sans", sans-serif'>40</text>
<line x1="177.30" y1="465.62" x2="180.70" y2="465.62" stroke="#222" stroke-width="0.8"/>
<text x="174.40" y="471.29" font-size="3.8" fill="#222" stroke="#222" stroke-width="0.04" text-anchor="end" font-family='"Liberation Sans", sans-serif'>30</text>
<line x1="177.30" y1="469.99" x2="180.70" y2="469.99" stroke="#222" stroke-width="0.8"/>
<text x="174.40" y="475.66" font-size="3.8" fill="#222" stroke="#222" stroke-width="0.04" text-anchor="end" font-family='"Liberation Sans", sans-serif'>20</text>
<line x1="177.30" y1="474.36" x2="180.70" y2="474.36" stroke="#222" stroke-width="0.8"/>
<text x="174.40" y="480.03" font-size="3.8" fill="#222" stroke="#222" stroke-width="0.04" text-anchor="end" font-family='"Liberation Sans", sans-serif'>10</text>
<line x1="177.30" y1="478.73" x2="180.70" y2="478.73" stroke="#222" stroke-width="0.8"/>
<text x="174.40" y="484.40" font-size="3.8" fill="#222" stroke="#222" stroke-width="0.04" text-anchor="end" font-family='"Liberation Sans", sans-serif'>0</text>
<line x1="177.30" y1="483.10" x2="180.70" y2="483.10" stroke="#222" stroke-width="0.8"/>
<rect x="183.00" y="440.00" width="4.7" height="42.80" fill="#ae0e2e" stroke="#c84a60" stroke-width="0.4"/>
<rect x="181.20" y="482.20" width="52.2" height="2.6" fill="#9a9a9a"/>
<line x1="180.70" y1="485.00" x2="233.40" y2="485.00" stroke="#333" stroke-width="0.9"/>
<line x1="180.70" y1="438.60" x2="180.70" y2="485.40" stroke="#111" stroke-width="1.2"/>
<line x1="181.70" y1="485.00" x2="181.70" y2="487.60" stroke="#111" stroke-width="0.9"/>
<text x="181.70" y="494.90" font-size="4.0" fill="#222" stroke="#222" stroke-width="0.04" text-anchor="middle" font-family='"Liberation Sans", sans-serif'>0</text>
<line x1="191.60" y1="485.00" x2="191.60" y2="487.60" stroke="#111" stroke-width="0.9"/>
<text x="191.60" y="494.90" font-size="4.0" fill="#222" stroke="#222" stroke-width="0.04" text-anchor="middle" font-family='"Liberation Sans", sans-serif'>20</text>
<line x1="201.50" y1="485.00" x2="201.50" y2="487.60" stroke="#111" stroke-width="0.9"/>
<text x="201.50" y="494.90" font-size="4.0" fill="#222" stroke="#222" stroke-width="0.04" text-anchor="middle" font-family='"Liberation Sans", sans-serif'>40</text>
<line x1="211.40" y1="485.00" x2="211.40" y2="487.60" stroke="#111" stroke-width="0.9"/>
<text x="211.40" y="494.90" font-size="4.0" fill="#222" stroke="#222" stroke-width="0.04" text-anchor="middle" font-family='"Liberation Sans", sans-serif'>60</text>
<line x1="221.30" y1="485.00" x2="221.30" y2="487.60" stroke="#111" stroke-width="0.9"/>
<text x="221.30" y="494.90" font-size="4.0" fill="#222" stroke="#222" stroke-width="0.04" text-anchor="middle" font-family='"Liberation Sans", sans-serif'>80</text>
<line x1="231.20" y1="485.00" x2="231.20" y2="487.60" stroke="#111" stroke-width="0.9"/>
<text x="231.20" y="494.90" font-size="4.0" fill="#222" stroke="#222" stroke-width="0.04" text-anchor="middle" font-family='"Liberation Sans", sans-serif'>100</text>
<text transform="translate(275.80,433.40) scale(0.94,1)" font-size="6.45" fill="#1a1a1a" text-anchor="middle" font-family='"Liberation Sans", sans-serif'>Liver</text>
<text x="243.50" y="440.70" font-size="3.8" fill="#222" stroke="#222" stroke-width="0.04" text-anchor="end" font-family='"Liberation Sans", sans-serif'>100</text>
<line x1="246.40" y1="439.40" x2="249.80" y2="439.40" stroke="#222" stroke-width="0.8"/>
<text x="243.50" y="445.07" font-size="3.8" fill="#222" stroke="#222" stroke-width="0.04" text-anchor="end" font-family='"Liberation Sans", sans-serif'>90</text>
<line x1="246.40" y1="443.77" x2="249.80" y2="443.77" stroke="#222" stroke-width="0.8"/>
<text x="243.50" y="449.44" font-size="3.8" fill="#222" stroke="#222" stroke-width="0.04" text-anchor="end" font-family='"Liberation Sans", sans-serif'>80</text>
<line x1="246.40" y1="448.14" x2="249.80" y2="448.14" stroke="#222" stroke-width="0.8"/>
<text x="243.50" y="453.81" font-size="3.8" fill="#222" stroke="#222" stroke-width="0.04" text-anchor="end" font-family='"Liberation Sans", sans-serif'>70</text>
<line x1="246.40" y1="452.51" x2="249.80" y2="452.51" stroke="#222" stroke-width="0.8"/>
<text x="243.50" y="458.18" font-size="3.8" fill="#222" stroke="#222" stroke-width="0.04" text-anchor="end" font-family='"Liberation Sans", sans-serif'>60</text>
<line x1="246.40" y1="456.88" x2="249.80" y2="456.88" stroke="#222" stroke-width="0.8"/>
<text x="243.50" y="462.55" font-size="3.8" fill="#222" stroke="#222" stroke-width="0.04" text-anchor="end" font-family='"Liberation Sans", sans-serif'>50</text>
<line x1="246.40" y1="461.25" x2="249.80" y2="461.25" stroke="#222" stroke-width="0.8"/>
<text x="243.50" y="466.92" font-size="3.8" fill="#222" stroke="#222" stroke-width="0.04" text-anchor="end" font-family='"Liberation Sans", sans-serif'>40</text>
<line x1="246.40" y1="465.62" x2="249.80" y2="465.62" stroke="#222" stroke-width="0.8"/>
<text x="243.50" y="471.29" font-size="3.8" fill="#222" stroke="#222" stroke-width="0.04" text-anchor="end" font-family='"Liberation Sans", sans-serif'>30</text>
<line x1="246.40" y1="469.99" x2="249.80" y2="469.99" stroke="#222" stroke-width="0.8"/>
<text x="243.50" y="475.66" font-size="3.8" fill="#222" stroke="#222" stroke-width="0.04" text-anchor="end" font-family='"Liberation Sans", sans-serif'>20</text>
<line x1="246.40" y1="474.36" x2="249.80" y2="474.36" stroke="#222" stroke-width="0.8"/>
<text x="243.50" y="480.03" font-size="3.8" fill="#222" stroke="#222" stroke-width="0.04" text-anchor="end" font-family='"Liberation Sans", sans-serif'>10</text>
<line x1="246.40" y1="478.73" x2="249.80" y2="478.73" stroke="#222" stroke-width="0.8"/>
<text x="243.50" y="484.40" font-size="3.8" fill="#222" stroke="#222" stroke-width="0.04" text-anchor="end" font-family='"Liberation Sans", sans-serif'>0</text>
<line x1="246.40" y1="483.10" x2="249.80" y2="483.10" stroke="#222" stroke-width="0.8"/>
<rect x="252.10" y="440.00" width="4.7" height="42.80" fill="#ae0e2e" stroke="#c84a60" stroke-width="0.4"/>
<rect x="250.30" y="482.20" width="52.2" height="2.6" fill="#9a9a9a"/>
<line x1="249.80" y1="485.00" x2="302.50" y2="485.00" stroke="#333" stroke-width="0.9"/>
<line x1="249.80" y1="438.60" x2="249.80" y2="485.40" stroke="#111" stroke-width="1.2"/>
<line x1="250.80" y1="485.00" x2="250.80" y2="487.60" stroke="#111" stroke-width="0.9"/>
<text x="250.80" y="494.90" font-size="4.0" fill="#222" stroke="#222" stroke-width="0.04" text-anchor="middle" font-family='"Liberation Sans", sans-serif'>0</text>
<line x1="260.70" y1="485.00" x2="260.70" y2="487.60" stroke="#111" stroke-width="0.9"/>
<text x="260.70" y="494.90" font-size="4.0" fill="#222" stroke="#222" stroke-width="0.04" text-anchor="middle" font-family='"Liberation Sans", sans-serif'>20</text>
<line x1="270.60" y1="485.00" x2="270.60" y2="487.60" stroke="#111" stroke-width="0.9"/>
<text x="270.60" y="494.90" font-size="4.0" fill="#222" stroke="#222" stroke-width="0.04" text-anchor="middle" font-family='"Liberation Sans", sans-serif'>40</text>
<line x1="280.50" y1="485.00" x2="280.50" y2="487.60" stroke="#111" stroke-width="0.9"/>
<text x="280.50" y="494.90" font-size="4.0" fill="#222" stroke="#222" stroke-width="0.04" text-anchor="middle" font-family='"Liberation Sans", sans-serif'>60</text>
<line x1="290.40" y1="485.00" x2="290.40" y2="487.60" stroke="#111" stroke-width="0.9"/>
<text x="290.40" y="494.90" font-size="4.0" fill="#222" stroke="#222" stroke-width="0.04" text-anchor="middle" font-family='"Liberation Sans", sans-serif'>80</text>
<line x1="300.30" y1="485.00" x2="300.30" y2="487.60" stroke="#111" stroke-width="0.9"/>
<text x="300.30" y="494.90" font-size="4.0" fill="#222" stroke="#222" stroke-width="0.04" text-anchor="middle" font-family='"Liberation Sans", sans-serif'>100</text>
<text transform="translate(345.30,433.40) scale(0.94,1)" font-size="6.45" fill="#1a1a1a" text-anchor="middle" font-family='"Liberation Sans", sans-serif'>Spleen</text>
<text x="313.00" y="440.70" font-size="3.8" fill="#222" stroke="#222" stroke-width="0.04" text-anchor="end" font-family='"Liberation Sans", sans-serif'>100</text>
<line x1="315.90" y1="439.40" x2="319.30" y2="439.40" stroke="#222" stroke-width="0.8"/>
<text x="313.00" y="445.07" font-size="3.8" fill="#222" stroke="#222" stroke-width="0.04" text-anchor="end" font-family='"Liberation Sans", sans-serif'>90</text>
<line x1="315.90" y1="443.77" x2="319.30" y2="443.77" stroke="#222" stroke-width="0.8"/>
<text x="313.00" y="449.44" font-size="3.8" fill="#222" stroke="#222" stroke-width="0.04" text-anchor="end" font-family='"Liberation Sans", sans-serif'>80</text>
<line x1="315.90" y1="448.14" x2="319.30" y2="448.14" stroke="#222" stroke-width="0.8"/>
<text x="313.00" y="453.81" font-size="3.8" fill="#222" stroke="#222" stroke-width="0.04" text-anchor="end" font-family='"Liberation Sans", sans-serif'>70</text>
<line x1="315.90" y1="452.51" x2="319.30" y2="452.51" stroke="#222" stroke-width="0.8"/>
<text x="313.00" y="458.18" font-size="3.8" fill="#222" stroke="#222" stroke-width="0.04" text-anchor="end" font-family='"Liberation Sans", sans-serif'>60</text>
<line x1="315.90" y1="456.88" x2="319.30" y2="456.88" stroke="#222" stroke-width="0.8"/>
<text x="313.00" y="462.55" font-size="3.8" fill="#222" stroke="#222" stroke-width="0.04" text-anchor="end" font-family='"Liberation Sans", sans-serif'>50</text>
<line x1="315.90" y1="461.25" x2="319.30" y2="461.25" stroke="#222" stroke-width="0.8"/>
<text x="313.00" y="466.92" font-size="3.8" fill="#222" stroke="#222" stroke-width="0.04" text-anchor="end" font-family='"Liberation Sans", sans-serif'>40</text>
<line x1="315.90" y1="465.62" x2="319.30" y2="465.62" stroke="#222" stroke-width="0.8"/>
<text x="313.00" y="471.29" font-size="3.8" fill="#222" stroke="#222" stroke-width="0.04" text-anchor="end" font-family='"Liberation Sans", sans-serif'>30</text>
<line x1="315.90" y1="469.99" x2="319.30" y2="469.99" stroke="#222" stroke-width="0.8"/>
<text x="313.00" y="475.66" font-size="3.8" fill="#222" stroke="#222" stroke-width="0.04" text-anchor="end" font-family='"Liberation Sans", sans-serif'>20</text>
<line x1="315.90" y1="474.36" x2="319.30" y2="474.36" stroke="#222" stroke-width="0.8"/>
<text x="313.00" y="480.03" font-size="3.8" fill="#222" stroke="#222" stroke-width="0.04" text-anchor="end" font-family='"Liberation Sans", sans-serif'>10</text>
<line x1="315.90" y1="478.73" x2="319.30" y2="478.73" stroke="#222" stroke-width="0.8"/>
<text x="313.00" y="484.40" font-size="3.8" fill="#222" stroke="#222" stroke-width="0.04" text-anchor="end" font-family='"Liberation Sans", sans-serif'>0</text>
<line x1="315.90" y1="483.10" x2="319.30" y2="483.10" stroke="#222" stroke-width="0.8"/>
<rect x="321.60" y="440.00" width="4.7" height="42.80" fill="#ae0e2e" stroke="#c84a60" stroke-width="0.4"/>
<rect x="319.80" y="482.20" width="52.2" height="2.6" fill="#9a9a9a"/>
<line x1="319.30" y1="485.00" x2="372.00" y2="485.00" stroke="#333" stroke-width="0.9"/>
<line x1="319.30" y1="438.60" x2="319.30" y2="485.40" stroke="#111" stroke-width="1.2"/>
<line x1="320.30" y1="485.00" x2="320.30" y2="487.60" stroke="#111" stroke-width="0.9"/>
<text x="320.30" y="494.90" font-size="4.0" fill="#222" stroke="#222" stroke-width="0.04" text-anchor="middle" font-family='"Liberation Sans", sans-serif'>0</text>
<line x1="330.20" y1="485.00" x2="330.20" y2="487.60" stroke="#111" stroke-width="0.9"/>
<text x="330.20" y="494.90" font-size="4.0" fill="#222" stroke="#222" stroke-width="0.04" text-anchor="middle" font-family='"Liberation Sans", sans-serif'>20</text>
<line x1="340.10" y1="485.00" x2="340.10" y2="487.60" stroke="#111" stroke-width="0.9"/>
<text x="340.10" y="494.90" font-size="4.0" fill="#222" stroke="#222" stroke-width="0.04" text-anchor="middle" font-family='"Liberation Sans", sans-serif'>40</text>
<line x1="350.00" y1="485.00" x2="350.00" y2="487.60" stroke="#111" stroke-width="0.9"/>
<text x="350.00" y="494.90" font-size="4.0" fill="#222" stroke="#222" stroke-width="0.04" text-anchor="middle" font-family='"Liberation Sans", sans-serif'>60</text>
<line x1="359.90" y1="485.00" x2="359.90" y2="487.60" stroke="#111" stroke-width="0.9"/>
<text x="359.90" y="494.90" font-size="4.0" fill="#222" stroke="#222" stroke-width="0.04" text-anchor="middle" font-family='"Liberation Sans", sans-serif'>80</text>
<line x1="369.80" y1="485.00" x2="369.80" y2="487.60" stroke="#111" stroke-width="0.9"/>
<text x="369.80" y="494.90" font-size="4.0" fill="#222" stroke="#222" stroke-width="0.04" text-anchor="middle" font-family='"Liberation Sans", sans-serif'>100</text>
<text transform="translate(414.50,433.40) scale(0.94,1)" font-size="6.45" fill="#1a1a1a" text-anchor="middle" font-family='"Liberation Sans", sans-serif'>Thymus</text>
<text x="382.20" y="440.70" font-size="3.8" fill="#222" stroke="#222" stroke-width="0.04" text-anchor="end" font-family='"Liberation Sans", sans-serif'>100</text>
<line x1="385.10" y1="439.40" x2="388.50" y2="439.40" stroke="#222" stroke-width="0.8"/>
<text x="382.20" y="445.07" font-size="3.8" fill="#222" stroke="#222" stroke-width="0.04" text-anchor="end" font-family='"Liberation Sans", sans-serif'>90</text>
<line x1="385.10" y1="443.77" x2="388.50" y2="443.77" stroke="#222" stroke-width="0.8"/>
<text x="382.20" y="449.44" font-size="3.8" fill="#222" stroke="#222" stroke-width="0.04" text-anchor="end" font-family='"Liberation Sans", sans-serif'>80</text>
<line x1="385.10" y1="448.14" x2="388.50" y2="448.14" stroke="#222" stroke-width="0.8"/>
<text x="382.20" y="453.81" font-size="3.8" fill="#222" stroke="#222" stroke-width="0.04" text-anchor="end" font-family='"Liberation Sans", sans-serif'>70</text>
<line x1="385.10" y1="452.51" x2="388.50" y2="452.51" stroke="#222" stroke-width="0.8"/>
<text x="382.20" y="458.18" font-size="3.8" fill="#222" stroke="#222" stroke-width="0.04" text-anchor="end" font-family='"Liberation Sans", sans-serif'>60</text>
<line x1="385.10" y1="456.88" x2="388.50" y2="456.88" stroke="#222" stroke-width="0.8"/>
<text x="382.20" y="462.55" font-size="3.8" fill="#222" stroke="#222" stroke-width="0.04" text-anchor="end" font-family='"Liberation Sans", sans-serif'>50</text>
<line x1="385.10" y1="461.25" x2="388.50" y2="461.25" stroke="#222" stroke-width="0.8"/>
<text x="382.20" y="466.92" font-size="3.8" fill="#222" stroke="#222" stroke-width="0.04" text-anchor="end" font-family='"Liberation Sans", sans-serif'>40</text>
<line x1="385.10" y1="465.62" x2="388.50" y2="465.62" stroke="#222" stroke-width="0.8"/>
<text x="382.20" y="471.29" font-size="3.8" fill="#222" stroke="#222" stroke-width="0.04" text-anchor="end" font-family='"Liberation Sans", sans-serif'>30</text>
<line x1="385.10" y1="469.99" x2="388.50" y2="469.99" stroke="#222" stroke-width="0.8"/>
<text x="382.20" y="475.66" font-size="3.8" fill="#222" stroke="#222" stroke-width="0.04" text-anchor="end" font-family='"Liberation Sans", sans-serif'>20</text>
<line x1="385.10" y1="474.36" x2="388.50" y2="474.36" stroke="#222" stroke-width="0.8"/>
<text x="382.20" y="480.03" font-size="3.8" fill="#222" stroke="#222" stroke-width="0.04" text-anchor="end" font-family='"Liberation Sans", sans-serif'>10</text>
<line x1="385.10" y1="478.73" x2="388.50" y2="478.73" stroke="#222" stroke-width="0.8"/>
<text x="382.20" y="484.40" font-size="3.8" fill="#222" stroke="#222" stroke-width="0.04" text-anchor="end" font-family='"Liberation Sans", sans-serif'>0</text>
<line x1="385.10" y1="483.10" x2="388.50" y2="483.10" stroke="#222" stroke-width="0.8"/>
<rect x="390.80" y="440.00" width="4.7" height="42.80" fill="#ae0e2e" stroke="#c84a60" stroke-width="0.4"/>
<rect x="389.00" y="482.20" width="52.2" height="2.6" fill="#9a9a9a"/>
<line x1="388.50" y1="485.00" x2="441.20" y2="485.00" stroke="#333" stroke-width="0.9"/>
<line x1="388.50" y1="438.60" x2="388.50" y2="485.40" stroke="#111" stroke-width="1.2"/>
<line x1="389.50" y1="485.00" x2="389.50" y2="487.60" stroke="#111" stroke-width="0.9"/>
<text x="389.50" y="494.90" font-size="4.0" fill="#222" stroke="#222" stroke-width="0.04" text-anchor="middle" font-family='"Liberation Sans", sans-serif'>0</text>
<line x1="399.40" y1="485.00" x2="399.40" y2="487.60" stroke="#111" stroke-width="0.9"/>
<text x="399.40" y="494.90" font-size="4.0" fill="#222" stroke="#222" stroke-width="0.04" text-anchor="middle" font-family='"Liberation Sans", sans-serif'>20</text>
<line x1="409.30" y1="485.00" x2="409.30" y2="487.60" stroke="#111" stroke-width="0.9"/>
<text x="409.30" y="494.90" font-size="4.0" fill="#222" stroke="#222" stroke-width="0.04" text-anchor="middle" font-family='"Liberation Sans", sans-serif'>40</text>
<line x1="419.20" y1="485.00" x2="419.20" y2="487.60" stroke="#111" stroke-width="0.9"/>
<text x="419.20" y="494.90" font-size="4.0" fill="#222" stroke="#222" stroke-width="0.04" text-anchor="middle" font-family='"Liberation Sans", sans-serif'>60</text>
<line x1="429.10" y1="485.00" x2="429.10" y2="487.60" stroke="#111" stroke-width="0.9"/>
<text x="429.10" y="494.90" font-size="4.0" fill="#222" stroke="#222" stroke-width="0.04" text-anchor="middle" font-family='"Liberation Sans", sans-serif'>80</text>
<line x1="439.00" y1="485.00" x2="439.00" y2="487.60" stroke="#111" stroke-width="0.9"/>
<text x="439.00" y="494.90" font-size="4.0" fill="#222" stroke="#222" stroke-width="0.04" text-anchor="middle" font-family='"Liberation Sans", sans-serif'>100</text>
<text transform="translate(484.50,433.40) scale(0.94,1)" font-size="6.45" fill="#1a1a1a" text-anchor="middle" font-family='"Liberation Sans", sans-serif'>Bone marrow</text>
<text x="452.20" y="440.70" font-size="3.8" fill="#222" stroke="#222" stroke-width="0.04" text-anchor="end" font-family='"Liberation Sans", sans-serif'>100</text>
<line x1="455.10" y1="439.40" x2="458.50" y2="439.40" stroke="#222" stroke-width="0.8"/>
<text x="452.20" y="445.07" font-size="3.8" fill="#222" stroke="#222" stroke-width="0.04" text-anchor="end" font-family='"Liberation Sans", sans-serif'>90</text>
<line x1="455.10" y1="443.77" x2="458.50" y2="443.77" stroke="#222" stroke-width="0.8"/>
<text x="452.20" y="449.44" font-size="3.8" fill="#222" stroke="#222" stroke-width="0.04" text-anchor="end" font-family='"Liberation Sans", sans-serif'>80</text>
<line x1="455.10" y1="448.14" x2="458.50" y2="448.14" stroke="#222" stroke-width="0.8"/>
<text x="452.20" y="453.81" font-size="3.8" fill="#222" stroke="#222" stroke-width="0.04" text-anchor="end" font-family='"Liberation Sans", sans-serif'>70</text>
<line x1="455.10" y1="452.51" x2="458.50" y2="452.51" stroke="#222" stroke-width="0.8"/>
<text x="452.20" y="458.18" font-size="3.8" fill="#222" stroke="#222" stroke-width="0.04" text-anchor="end" font-family='"Liberation Sans", sans-serif'>60</text>
<line x1="455.10" y1="456.88" x2="458.50" y2="456.88" stroke="#222" stroke-width="0.8"/>
<text x="452.20" y="462.55" font-size="3.8" fill="#222" stroke="#222" stroke-width="0.04" text-anchor="end" font-family='"Liberation Sans", sans-serif'>50</text>
<line x1="455.10" y1="461.25" x2="458.50" y2="461.25" stroke="#222" stroke-width="0.8"/>
<text x="452.20" y="466.92" font-size="3.8" fill="#222" stroke="#222" stroke-width="0.04" text-anchor="end" font-family='"Liberation Sans", sans-serif'>40</text>
<line x1="455.10" y1="465.62" x2="458.50" y2="465.62" stroke="#222" stroke-width="0.8"/>
<text x="452.20" y="471.29" font-size="3.8" fill="#222" stroke="#222" stroke-width="0.04" text-anchor="end" font-family='"Liberation Sans", sans-serif'>30</text>
<line x1="455.10" y1="469.99" x2="458.50" y2="469.99" stroke="#222" stroke-width="0.8"/>
<text x="452.20" y="475.66" font-size="3.8" fill="#222" stroke="#222" stroke-width="0.04" text-anchor="end" font-family='"Liberation Sans", sans-serif'>20</text>
<line x1="455.10" y1="474.36" x2="458.50" y2="474.36" stroke="#222" stroke-width="0.8"/>
<text x="452.20" y="480.03" font-size="3.8" fill="#222" stroke="#222" stroke-width="0.04" text-anchor="end" font-family='"Liberation Sans", sans-serif'>10</text>
<line x1="455.10" y1="478.73" x2="458.50" y2="478.73" stroke="#222" stroke-width="0.8"/>
<text x="452.20" y="484.40" font-size="3.8" fill="#222" stroke="#222" stroke-width="0.04" text-anchor="end" font-family='"Liberation Sans", sans-serif'>0</text>
<line x1="455.10" y1="483.10" x2="458.50" y2="483.10" stroke="#222" stroke-width="0.8"/>
<rect x="460.80" y="440.00" width="4.7" height="42.80" fill="#ae0e2e" stroke="#c84a60" stroke-width="0.4"/>
<rect x="459.00" y="482.20" width="52.2" height="2.6" fill="#9a9a9a"/>
<line x1="458.50" y1="485.00" x2="511.20" y2="485.00" stroke="#333" stroke-width="0.9"/>
<line x1="458.50" y1="438.60" x2="458.50" y2="485.40" stroke="#111" stroke-width="1.2"/>
<line x1="459.50" y1="485.00" x2="459.50" y2="487.60" stroke="#111" stroke-width="0.9"/>
<text x="459.50" y="494.90" font-size="4.0" fill="#222" stroke="#222" stroke-width="0.04" text-anchor="middle" font-family='"Liberation Sans", sans-serif'>0</text>
<line x1="469.40" y1="485.00" x2="469.40" y2="487.60" stroke="#111" stroke-width="0.9"/>
<text x="469.40" y="494.90" font-size="4.0" fill="#222" stroke="#222" stroke-width="0.04" text-anchor="middle" font-family='"Liberation Sans", sans-serif'>20</text>
<line x1="479.30" y1="485.00" x2="479.30" y2="487.60" stroke="#111" stroke-width="0.9"/>
<text x="479.30" y="494.90" font-size="4.0" fill="#222" stroke="#222" stroke-width="0.04" text-anchor="middle" font-family='"Liberation Sans", sans-serif'>40</text>
<line x1="489.20" y1="485.00" x2="489.20" y2="487.60" stroke="#111" stroke-width="0.9"/>
<text x="489.20" y="494.90" font-size="4.0" fill="#222" stroke="#222" stroke-width="0.04" text-anchor="middle" font-family='"Liberation Sans", sans-serif'>60</text>
<line x1="499.10" y1="485.00" x2="499.10" y2="487.60" stroke="#111" stroke-width="0.9"/>
<text x="499.10" y="494.90" font-size="4.0" fill="#222" stroke="#222" stroke-width="0.04" text-anchor="middle" font-family='"Liberation Sans", sans-serif'>80</text>
<line x1="509.00" y1="485.00" x2="509.00" y2="487.60" stroke="#111" stroke-width="0.9"/>
<text x="509.00" y="494.90" font-size="4.0" fill="#222" stroke="#222" stroke-width="0.04" text-anchor="middle" font-family='"Liberation Sans", sans-serif'>100</text>
<text transform="translate(208.2,328.9) scale(0.77,1)" font-size="6.4" fill="#222" stroke="#222" stroke-width="0.12" text-anchor="middle" font-family='"Liberation Sans", sans-serif'>Fetus (E12.5)</text>
<text transform="translate(277.7,416.8) scale(0.77,1)" font-size="6.4" fill="#222" stroke="#222" stroke-width="0.12" text-anchor="middle" font-family='"Liberation Sans", sans-serif'>Neonate</text>
<text transform="translate(275.7,505.0) scale(0.77,1)" font-size="6.4" fill="#222" stroke="#222" stroke-width="0.12" text-anchor="middle" font-family='"Liberation Sans", sans-serif'>Adult</text>
<text transform="translate(55.2,508.3) scale(0.77,1)" font-size="6.4" fill="#222" stroke="#222" stroke-width="0.12" text-anchor="middle" font-family='"Liberation Sans", sans-serif'>% methylation</text>
<text transform="translate(20.6,470.3) rotate(-90) scale(0.77,1)" font-size="6.4" fill="#222" stroke="#222" stroke-width="0.12" text-anchor="middle" font-family='"Liberation Sans", sans-serif'>% of reads</text>
<path d="M25.7 441.8 L25.7 499.9 L81.5 499.9" fill="none" stroke="#222" stroke-width="1.1"/>
<path d="M25.7 441.3 L23.6 446.8 L27.8 446.8 Z" fill="#111"/>
<path d="M84.4 499.9 L78.9 497.8 L78.9 502.0 Z" fill="#111"/>
</svg>
</body></html>
